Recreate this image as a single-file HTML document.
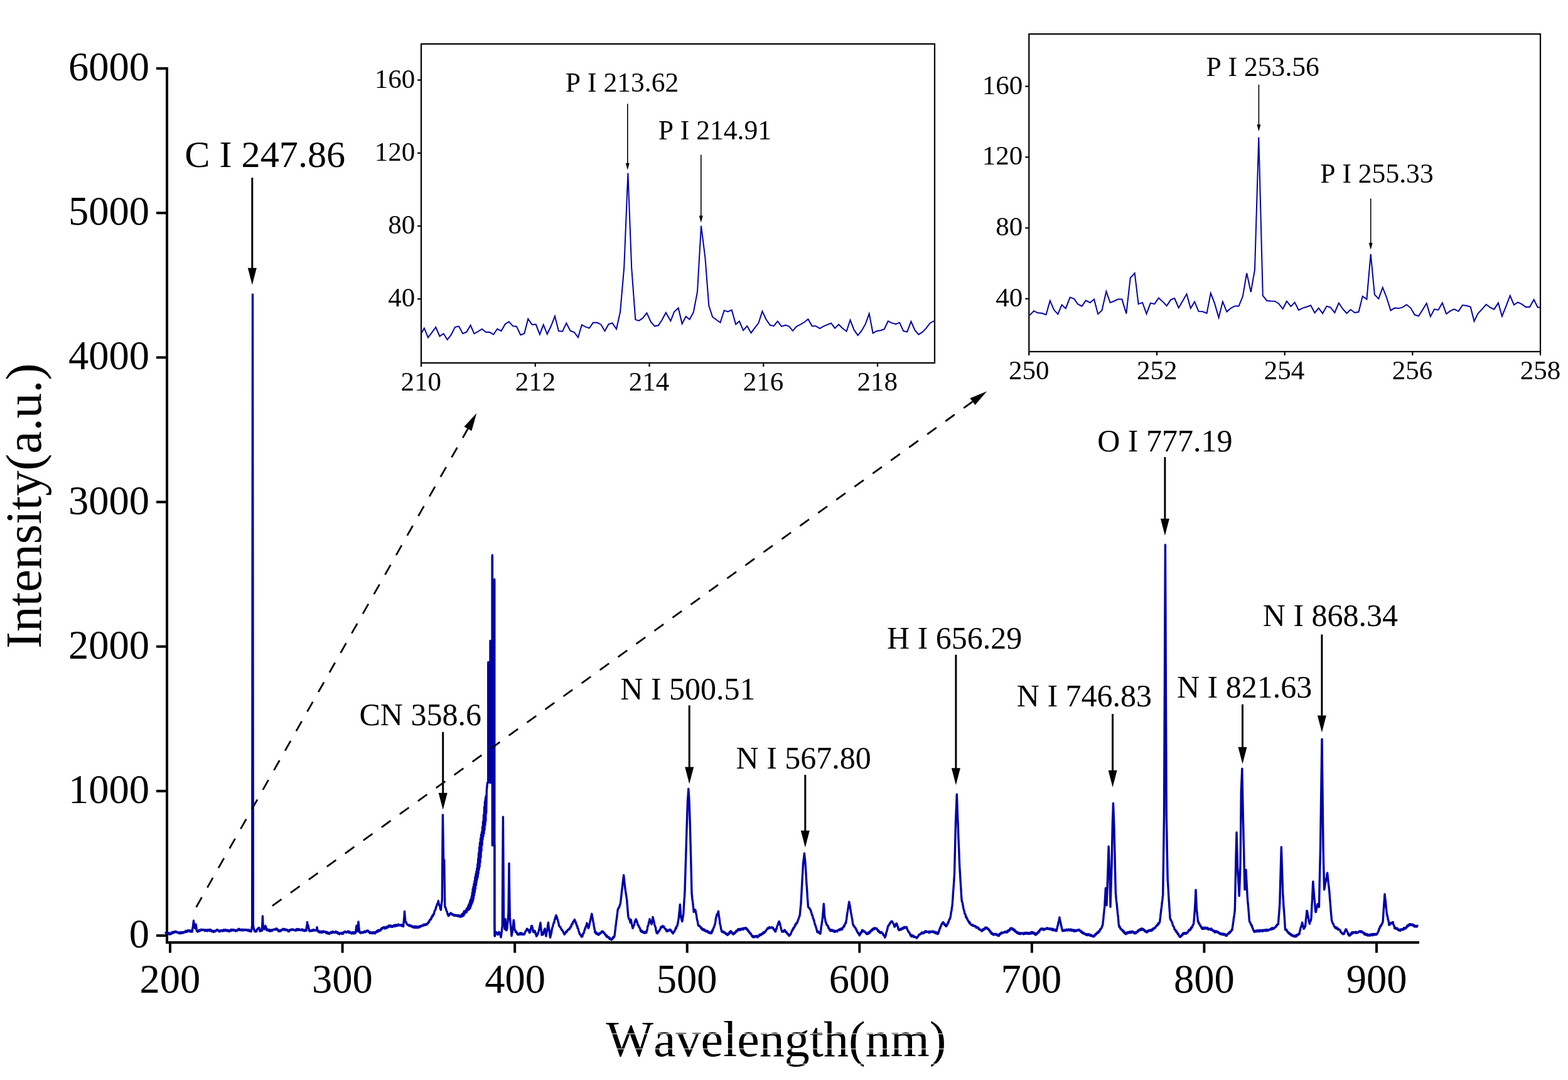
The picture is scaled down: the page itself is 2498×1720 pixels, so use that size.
<!DOCTYPE html>
<html><head><meta charset="utf-8"><title>Spectrum</title>
<style>html,body{margin:0;padding:0;background:#fff;overflow:hidden;}svg{display:block;}text{font-kerning:none;font-feature-settings:'kern' 0;}</style>
</head><body>
<svg width="2498" height="1720" viewBox="0 0 2498 1720">
<rect width="100%" height="100%" fill="#fff"/>
<g stroke="#000" stroke-width="4" fill="none">
<line x1="266" y1="107" x2="266" y2="1503"/>
<line x1="264" y1="1501" x2="2261" y2="1501"/>
<line x1="249" y1="1490" x2="266" y2="1490"/>
<line x1="249" y1="1259.83" x2="266" y2="1259.83"/>
<line x1="249" y1="1029.67" x2="266" y2="1029.67"/>
<line x1="249" y1="799.5" x2="266" y2="799.5"/>
<line x1="249" y1="569.33" x2="266" y2="569.33"/>
<line x1="249" y1="339.16" x2="266" y2="339.16"/>
<line x1="249" y1="109" x2="266" y2="109"/>
<line x1="271" y1="1501" x2="271" y2="1517.5"/>
<line x1="545.57" y1="1501" x2="545.57" y2="1517.5"/>
<line x1="820.14" y1="1501" x2="820.14" y2="1517.5"/>
<line x1="1094.71" y1="1501" x2="1094.71" y2="1517.5"/>
<line x1="1369.29" y1="1501" x2="1369.29" y2="1517.5"/>
<line x1="1643.86" y1="1501" x2="1643.86" y2="1517.5"/>
<line x1="1918.43" y1="1501" x2="1918.43" y2="1517.5"/>
<line x1="2193" y1="1501" x2="2193" y2="1517.5"/>
</g>
<g font-family="Liberation Serif, Times New Roman, serif" fill="#000">
<text x="205.71" y="1509" font-size="64.5">0</text>
<text x="108.96" y="1278.83" font-size="64.5">1000</text>
<text x="108.96" y="1048.67" font-size="64.5">2000</text>
<text x="108.96" y="818.5" font-size="64.5">3000</text>
<text x="108.96" y="588.33" font-size="64.5">4000</text>
<text x="108.96" y="358.16" font-size="64.5">5000</text>
<text x="108.96" y="128" font-size="64.5">6000</text>
<text x="222.44" y="1580.5" font-size="64.5">200</text>
<text x="496.88" y="1580.5" font-size="64.5">300</text>
<text x="772.37" y="1580.5" font-size="64.5">400</text>
<text x="1045.69" y="1580.5" font-size="64.5">500</text>
<text x="1320.75" y="1580.5" font-size="64.5">600</text>
<text x="1594.58" y="1580.5" font-size="64.5">700</text>
<text x="1870.05" y="1580.5" font-size="64.5">800</text>
<text x="2144.81" y="1580.5" font-size="64.5">900</text>
<text x="965.42" y="1682" font-size="80.02">Wavelength(nm)</text>
<rect x="955" y="1646" width="560" height="1" fill="#fff" shape-rendering="crispEdges"/>
<rect x="955" y="1670" width="560" height="1" fill="#fff" shape-rendering="crispEdges"/>
<rect x="955" y="1694" width="560" height="1" fill="#fff" shape-rendering="crispEdges"/>
<text transform="translate(64.5 1032.93) rotate(-90)" x="0" y="0" font-size="81">Intensity(a.u.)</text>
</g>
<path d="M264 1485.8 L264.5 1485.2 L264.9 1486.3 L265.4 1485 L265.8 1486.2 L266.3 1485.9 L266.7 1485.3 L267.2 1486.5 L267.7 1485.5 L268.1 1486.6 L268.6 1485.9 L269 1486.1 L269.5 1487 L269.9 1488.1 L270.4 1486.3 L270.9 1486.3 L271.3 1487.1 L271.8 1487.7 L272.2 1486.6 L272.7 1486 L273.1 1487.2 L273.6 1484.8 L274.1 1486.6 L274.5 1485 L275 1484.5 L275.4 1484.3 L275.9 1484.7 L276.3 1485.8 L276.8 1484.1 L277.3 1485 L277.7 1485 L278.2 1484.3 L278.6 1484.6 L279.1 1483.3 L279.5 1483.2 L280 1483.4 L280.5 1484.7 L280.9 1484.2 L281.4 1484.1 L281.8 1484.9 L282.3 1484.7 L282.7 1484.4 L283.2 1485.7 L283.6 1485.6 L284.1 1484.7 L284.5 1485.6 L285 1485.6 L285.5 1486.4 L285.9 1486.1 L286.4 1485.1 L286.8 1486.7 L287.3 1484.7 L287.7 1485.4 L288.2 1486.2 L288.6 1484.8 L289.1 1485.6 L289.5 1484.5 L290 1486 L290.5 1486.1 L290.9 1485.5 L291.4 1486 L291.8 1484.5 L292.3 1485.2 L292.7 1484.8 L293.2 1484.6 L293.6 1484.1 L294.1 1484.8 L294.5 1484.9 L295 1483.6 L295.5 1483.9 L295.9 1482.4 L296.4 1483.9 L296.8 1483.6 L297.3 1484.4 L297.7 1483.9 L298.2 1482.5 L298.6 1482.7 L299.1 1483.3 L299.5 1481.6 L300 1482.6 L300.5 1481.9 L300.9 1481.8 L301.4 1481.7 L301.8 1483.5 L302.3 1482 L302.8 1482.3 L303.2 1482.7 L303.7 1483.8 L304.2 1482 L304.6 1482.9 L305.1 1483.2 L305.5 1484.1 L306 1484.1 L306.5 1481.6 L307 1477.6 L307.5 1475.3 L308 1470.1 L308.5 1466.3 L309 1472.4 L309.5 1476.4 L310 1477.4 L310.5 1478.1 L311 1478.7 L311.5 1475.6 L312 1472 L312.5 1475 L313 1478.1 L313.5 1482.8 L314 1482.7 L314.4 1483.1 L314.9 1484 L315.3 1483.3 L315.8 1482.7 L316.2 1482.8 L316.7 1482.7 L317.2 1481.1 L317.6 1483 L318.1 1482.5 L318.5 1482.6 L319 1482.2 L319.5 1481.1 L319.9 1481 L320.4 1480.3 L320.8 1481.6 L321.3 1480.3 L321.8 1480.4 L322.2 1480.8 L322.7 1480.7 L323.1 1481.2 L323.6 1480.6 L324 1480.5 L324.5 1481 L325 1480.9 L325.4 1481.5 L325.9 1480.7 L326.3 1482.7 L326.8 1482.1 L327.2 1481 L327.7 1481.2 L328.2 1481.4 L328.6 1481.4 L329.1 1480.8 L329.5 1482.6 L330 1482.9 L330.5 1481.6 L330.9 1481.6 L331.4 1480.6 L331.8 1480.7 L332.3 1481.2 L332.7 1481 L333.2 1482.3 L333.6 1480.7 L334.1 1480.3 L334.5 1482.5 L335 1481.5 L335.5 1480.8 L335.9 1481.9 L336.4 1480.9 L336.8 1482.3 L337.3 1483.6 L337.7 1483.5 L338.2 1483.3 L338.6 1482.4 L339.1 1482.9 L339.5 1482.6 L340 1484.3 L340.5 1483.5 L340.9 1483.9 L341.4 1482.6 L341.8 1482.2 L342.3 1483.4 L342.7 1483.6 L343.2 1483.1 L343.6 1482.8 L344.1 1482.6 L344.5 1482.2 L345 1480.8 L345.5 1481.6 L345.9 1481.3 L346.4 1480.6 L346.8 1480.7 L347.3 1481.4 L347.7 1481.5 L348.2 1482.6 L348.6 1483.3 L349.1 1482.2 L349.5 1483.5 L350 1483.7 L350.5 1483.6 L350.9 1482.1 L351.4 1481.7 L351.8 1481.7 L352.3 1481.6 L352.7 1481.5 L353.2 1482.5 L353.6 1483.1 L354.1 1482.9 L354.5 1482 L355 1482.4 L355.5 1482.6 L355.9 1480.8 L356.4 1482.1 L356.8 1482.6 L357.3 1482.2 L357.7 1482.1 L358.2 1481.3 L358.6 1480.5 L359.1 1481.9 L359.5 1480.7 L360 1481.7 L360.5 1482.3 L360.9 1481.1 L361.4 1481.2 L361.8 1482.7 L362.3 1482.3 L362.7 1481.1 L363.2 1481.2 L363.6 1481.4 L364.1 1483.3 L364.5 1483.2 L365 1481.8 L365.5 1483.3 L365.9 1483.4 L366.4 1482.5 L366.8 1481.6 L367.3 1481.9 L367.7 1480.7 L368.2 1480.2 L368.6 1482.3 L369.1 1481.4 L369.5 1480.9 L370 1481.7 L370.5 1480.6 L370.9 1481.8 L371.4 1481.9 L371.8 1480.5 L372.3 1480.8 L372.7 1481 L373.2 1481 L373.6 1482 L374.1 1481.3 L374.5 1481.9 L375 1481.3 L375.5 1483 L375.9 1481.5 L376.4 1481.6 L376.8 1481.8 L377.3 1482.4 L377.7 1481.1 L378.2 1482.1 L378.6 1480.9 L379.1 1480.8 L379.5 1480.7 L380 1479.3 L380.5 1480.4 L380.9 1479.8 L381.4 1479.5 L381.8 1481.5 L382.3 1480.1 L382.7 1480.9 L383.2 1481.5 L383.6 1481.2 L384.1 1480.8 L384.5 1481.3 L385 1481.5 L385.5 1481.9 L385.9 1480.2 L386.4 1481.3 L386.8 1480.5 L387.3 1480.5 L387.7 1481.6 L388.2 1480.9 L388.6 1480.9 L389.1 1481.3 L389.5 1481.6 L390 1480.4 L390.5 1480.9 L390.9 1480.7 L391.4 1480.7 L391.9 1481.2 L392.4 1480.6 L392.8 1480.9 L393.3 1480.8 L393.8 1481.9 L394.2 1481.4 L394.7 1481.8 L395.2 1482.1 L395.6 1480.7 L396.1 1481.6 L396.6 1482.8 L397.1 1482.8 L397.5 1481.3 L398 1481.5 L398.5 1482.8 L399 1482.4 L399.5 1483.4 L400 1483.5 L400.6 1481.2 L401.1 1477.7 L401.7 1474.3 L402.5 469 L403.3 1472.3 L403.9 1476.6 L404.4 1479.4 L405 1481.1 L405.5 1483.1 L406 1483.4 L406.5 1481.8 L407 1483.8 L407.5 1482.6 L408 1483 L408.5 1483.5 L409 1482.3 L409.5 1480 L410 1479.9 L410.5 1479.7 L411 1478.9 L411.5 1478.2 L412.1 1477.5 L412.7 1477.5 L413.4 1478.8 L414 1483 L414.5 1482.7 L414.9 1481.8 L415.4 1482.2 L415.9 1482.6 L416.4 1482 L416.8 1480.5 L417.3 1482.4 L417.9 1470.7 L418.4 1459 L418.9 1470.7 L419.5 1479.3 L420 1479.3 L420.5 1478.5 L421 1480.1 L421.5 1478.7 L422 1476.4 L422.5 1475.2 L423 1474.4 L423.5 1476.6 L424 1477.6 L424.5 1479.8 L425 1481.7 L425.4 1481 L425.9 1481.4 L426.3 1480.1 L426.8 1480.1 L427.2 1481.8 L427.7 1481.3 L428.1 1480.6 L428.6 1482.8 L429.1 1482.2 L429.5 1482.7 L430 1481.1 L430.4 1482.9 L430.9 1481 L431.3 1482.8 L431.8 1481.8 L432.2 1481.4 L432.7 1481.9 L433.2 1482.7 L433.6 1481.1 L434.1 1480.7 L434.5 1481.6 L435 1480.8 L435.4 1480.4 L435.9 1480.3 L436.4 1479.9 L436.8 1480.1 L437.3 1480.2 L437.7 1480 L438.2 1481 L438.6 1479.7 L439.1 1480 L439.5 1479.1 L440 1479.4 L440.5 1478.8 L440.9 1479.7 L441.4 1479.4 L441.8 1481.4 L442.3 1481.2 L442.7 1480.6 L443.2 1481.6 L443.6 1482.9 L444.1 1481.2 L444.5 1483.2 L445 1482.5 L445.5 1482.5 L445.9 1483.1 L446.4 1481.8 L446.8 1481.8 L447.3 1482.1 L447.7 1482.6 L448.2 1480.8 L448.6 1481.8 L449.1 1481.3 L449.5 1480.9 L450 1480.1 L450.5 1480 L450.9 1479.3 L451.4 1479.5 L451.8 1479.4 L452.3 1481 L452.7 1479.9 L453.2 1479.7 L453.6 1479.5 L454.1 1481.4 L454.5 1481.5 L455 1481 L455.5 1480.2 L455.9 1480.3 L456.4 1480.6 L456.8 1481.1 L457.3 1480.6 L457.7 1481.4 L458.2 1481.2 L458.6 1483 L459.1 1483.2 L459.5 1482.3 L460 1481.8 L460.5 1483.4 L460.9 1481.7 L461.4 1481.7 L461.8 1480.7 L462.3 1481.5 L462.7 1481.6 L463.2 1481.5 L463.6 1480.7 L464.1 1481.3 L464.5 1480 L465 1480.5 L465.4 1480.1 L465.9 1480.8 L466.3 1479.9 L466.8 1479.9 L467.2 1480.6 L467.7 1480.4 L468.1 1481.2 L468.6 1481.1 L469 1481.6 L469.5 1481.4 L469.9 1481.5 L470.4 1481.9 L470.8 1480.7 L471.3 1480.4 L471.7 1482 L472.2 1479.9 L472.6 1481.2 L473.1 1481 L473.5 1479.5 L474 1481.3 L474.5 1481.4 L474.9 1480.7 L475.4 1481 L475.8 1481.2 L476.3 1479.6 L476.7 1480.5 L477.2 1480.5 L477.6 1481.3 L478.1 1481.2 L478.5 1481.3 L479 1480.7 L479.4 1481.5 L479.9 1481 L480.3 1481.1 L480.8 1480.2 L481.2 1479.8 L481.7 1480.2 L482.1 1480.9 L482.6 1480.5 L483 1482.4 L483.5 1481.8 L483.9 1482.2 L484.4 1482.3 L484.8 1482.6 L485.3 1482.1 L485.7 1480.9 L486.2 1482.7 L486.6 1482.5 L487.1 1481.8 L487.5 1481.8 L488 1482 L488.5 1476.4 L489 1473.8 L489.5 1468.4 L490.3 1476.2 L491 1473.8 L491.5 1477.4 L492 1478.6 L492.5 1482.3 L493 1483 L493.4 1481.9 L493.9 1481.8 L494.3 1482.1 L494.8 1482.7 L495.3 1482.9 L495.7 1482.5 L496.2 1482.5 L496.6 1481.1 L497.1 1481.2 L497.6 1481.4 L498 1482.5 L498.5 1481.3 L498.9 1481.9 L499.4 1480.5 L499.9 1480.6 L500.3 1481.1 L500.8 1482 L501.2 1482.1 L501.7 1482.1 L502.2 1481.2 L502.6 1481.8 L503.1 1481.7 L503.5 1481.7 L504 1480.9 L504.5 1480.5 L505 1476.6 L505.5 1480.9 L506 1483.2 L506.5 1481.3 L506.9 1482.6 L507.4 1483.7 L507.8 1484.3 L508.3 1483.3 L508.7 1483.1 L509.2 1483.2 L509.6 1485.2 L510.1 1483.6 L510.5 1484.5 L511 1483.4 L511.4 1484.3 L511.9 1485.2 L512.3 1483.2 L512.8 1484.8 L513.2 1484.1 L513.7 1484.9 L514.1 1484.4 L514.6 1483.3 L515 1484.8 L515.5 1484 L515.9 1483 L516.4 1483.1 L516.8 1484.4 L517.3 1484.4 L517.7 1484.1 L518.2 1483.9 L518.6 1484.5 L519.1 1484.6 L519.5 1485.9 L520 1484 L520.5 1485.9 L520.9 1486.2 L521.4 1484.6 L521.8 1486.6 L522.3 1486.2 L522.7 1486.8 L523.2 1485.4 L523.6 1485.7 L524.1 1485.8 L524.5 1487.4 L525 1486.5 L525.5 1485.8 L525.9 1485.8 L526.4 1485.2 L526.8 1484.5 L527.3 1484.4 L527.7 1486 L528.2 1484.5 L528.6 1485.8 L529.1 1484 L529.5 1483.9 L530 1484.3 L530.5 1483.5 L530.9 1483.9 L531.4 1485.3 L531.8 1485.2 L532.3 1485 L532.7 1484.6 L533.2 1485.2 L533.6 1485.3 L534.1 1484.4 L534.5 1484.8 L535 1483.2 L535.5 1485.1 L535.9 1484.6 L536.4 1485.6 L536.8 1485.5 L537.3 1484.9 L537.7 1484.6 L538.2 1486.9 L538.6 1485.2 L539.1 1486.3 L539.5 1486.2 L540 1486.3 L540.5 1487.3 L540.9 1487.9 L541.4 1486.1 L541.8 1487 L542.3 1486.1 L542.7 1486.7 L543.2 1486.3 L543.6 1485.7 L544.1 1485.7 L544.5 1485.7 L545 1487.4 L545.5 1486.2 L545.9 1485.4 L546.4 1486.8 L546.8 1486.9 L547.3 1485.4 L547.7 1484.5 L548.2 1484.4 L548.6 1484 L549.1 1484.4 L549.5 1483.6 L550 1483.8 L550.5 1483.8 L550.9 1484.6 L551.4 1485.3 L551.8 1484.9 L552.3 1484.1 L552.7 1484.1 L553.2 1484.3 L553.6 1483.9 L554.1 1483.8 L554.5 1483.1 L555 1483.6 L555.5 1485.4 L555.9 1483.5 L556.4 1484.6 L556.8 1485 L557.3 1485.7 L557.7 1484.3 L558.2 1484.6 L558.6 1484.7 L559.1 1485.2 L559.5 1485.5 L560 1486.9 L560.5 1486.6 L560.9 1486.6 L561.4 1484.6 L561.8 1484.6 L562.3 1486.2 L562.7 1486.7 L563.2 1485.6 L563.6 1485.9 L564.1 1484.5 L564.5 1485.4 L565 1486.7 L565.4 1486.2 L565.9 1486 L566.3 1486 L566.8 1483.9 L567.4 1478.8 L568 1474.2 L568.5 1477.5 L569 1480.3 L569.5 1483.3 L570.2 1477.7 L571 1467.9 L571.5 1473.7 L572 1478.6 L572.5 1484.4 L573 1483.4 L573.4 1485.4 L573.9 1484.3 L574.3 1486.1 L574.8 1485.7 L575.2 1485 L575.7 1484.5 L576.2 1484.8 L576.6 1485.7 L577.1 1485.8 L577.5 1484.4 L578 1484.3 L578.5 1485.2 L578.9 1485.2 L579.4 1484.6 L579.9 1484 L580.3 1484.7 L580.8 1483.1 L581.3 1483.6 L581.7 1483.8 L582.2 1484.7 L582.7 1483.8 L583.1 1484.1 L583.6 1482.9 L584.1 1482.1 L584.5 1481.9 L585 1483.4 L585.5 1483.1 L585.9 1482.5 L586.4 1482.1 L586.8 1483.6 L587.3 1484.3 L587.7 1484 L588.2 1483.9 L588.6 1485.2 L589.1 1486.1 L589.5 1484.8 L590 1484.6 L590.5 1485.3 L590.9 1485.5 L591.4 1486.1 L591.9 1484.9 L592.4 1486.3 L592.8 1486.1 L593.3 1485.5 L593.8 1484.7 L594.2 1486.5 L594.7 1484.9 L595.2 1486.1 L595.6 1484.8 L596.1 1484.8 L596.6 1486.1 L597.1 1485 L597.5 1486.7 L598 1485.6 L598.5 1484.4 L598.9 1484 L599.4 1483.9 L599.9 1484.1 L600.3 1484.5 L600.8 1482.3 L601.3 1482.8 L601.7 1482.1 L602.2 1483.8 L602.7 1481.6 L603.1 1481.2 L603.6 1481 L604.1 1481.6 L604.5 1482.6 L605 1482.4 L605.5 1481.7 L605.9 1482 L606.4 1481.5 L606.8 1479.7 L607.3 1479 L607.7 1480.4 L608.2 1479.6 L608.6 1477.6 L609.1 1478.8 L609.5 1477.7 L610 1477.4 L610.5 1477.3 L610.9 1476.9 L611.4 1476.5 L611.8 1477.1 L612.3 1477.3 L612.7 1478.8 L613.2 1476.8 L613.6 1478.8 L614.1 1477 L614.5 1477.3 L615 1478.4 L615.5 1478.2 L615.9 1477 L616.4 1475.8 L616.8 1476.6 L617.3 1476.1 L617.8 1477.1 L618.2 1475.1 L618.7 1475.3 L619.1 1476.3 L619.6 1474 L620 1474.6 L620.5 1475.7 L621 1475.6 L621.4 1473.9 L621.9 1473.9 L622.3 1474 L622.8 1476.1 L623.2 1474.6 L623.7 1475.8 L624.2 1476.2 L624.6 1474.9 L625.1 1474.7 L625.5 1476.2 L626 1475.2 L626.5 1474.2 L626.9 1475.2 L627.4 1474.2 L627.8 1474 L628.2 1473.2 L628.7 1475 L629.1 1475.3 L629.6 1474.5 L630 1475.1 L630.5 1472.8 L631 1473.2 L631.4 1473.7 L631.9 1474.7 L632.3 1474.6 L632.8 1473.1 L633.2 1472.7 L633.6 1473 L634.1 1473 L634.5 1474 L635 1472.1 L635.5 1473.7 L636 1473.6 L636.4 1473.9 L636.9 1473.9 L637.4 1473.5 L637.9 1473 L638.3 1473 L638.8 1473.2 L639.3 1474.3 L639.8 1472.7 L640.2 1473.2 L640.7 1474.8 L641.2 1473.9 L641.6 1473.7 L642.1 1474 L642.6 1475.5 L643.5 1464.8 L644 1459.7 L644.5 1451.4 L645 1458.3 L645.5 1463.7 L646 1468.4 L646.5 1468.3 L647 1468.6 L647.5 1469.9 L648 1471.4 L648.5 1471.9 L649 1472.4 L649.5 1472.8 L649.9 1473.2 L650.4 1473.5 L650.9 1473.9 L651.3 1474.3 L651.8 1474 L652.3 1472.9 L652.8 1474.8 L653.2 1473.7 L653.7 1474.5 L654.2 1474.3 L654.6 1475.3 L655.1 1474.2 L655.6 1474.6 L656 1474.8 L656.5 1474.8 L657 1476.6 L657.4 1476 L657.9 1475.4 L658.3 1475.6 L658.8 1477.1 L659.2 1476 L659.7 1475.4 L660.1 1476.8 L660.6 1476.5 L661.1 1477.4 L661.5 1475.3 L662 1476.2 L662.4 1477.1 L662.9 1477.2 L663.3 1477.4 L663.8 1475.4 L664.2 1476 L664.7 1475.6 L665.1 1475.8 L665.6 1477.6 L666.1 1476.5 L666.5 1477.3 L667 1475.8 L667.4 1476.9 L667.9 1475.8 L668.3 1475.2 L668.8 1476.4 L669.2 1476.6 L669.7 1474.5 L670.2 1475.6 L670.6 1475.5 L671.1 1474.4 L671.5 1474.6 L672 1473.9 L672.4 1474 L672.9 1473.9 L673.3 1474.6 L673.8 1474.6 L674.3 1473.2 L674.8 1472.3 L675.2 1472.8 L675.7 1473.6 L676.2 1472.3 L676.6 1472.5 L677.1 1472.2 L677.6 1473.5 L678.1 1472.8 L678.5 1471.6 L679 1471.6 L679.5 1472.2 L680 1472.5 L680.4 1472.2 L680.9 1470.4 L681.4 1470.1 L681.9 1470.6 L682.3 1469.2 L682.8 1468.1 L683.3 1467.4 L683.8 1468.2 L684.2 1465.9 L684.7 1465.7 L685.2 1464.5 L685.7 1464.1 L686.1 1464.5 L686.6 1464.3 L687.1 1461.9 L687.5 1460.7 L688 1461.2 L688.4 1459.1 L688.9 1457.9 L689.3 1459.2 L689.8 1457.3 L690.2 1457.5 L690.6 1455.8 L691.1 1456.2 L691.6 1453.8 L692.1 1451.7 L692.6 1449.9 L693.1 1449.8 L693.6 1448.6 L694.1 1447.8 L694.6 1444.6 L695 1444.6 L695.5 1442.7 L696 1441.7 L696.4 1439.6 L696.9 1439.1 L697.4 1438.3 L697.8 1438 L698.3 1434.7 L698.8 1437.3 L699.2 1439.7 L699.7 1441.6 L700.2 1441.5 L700.8 1443 L701.3 1446.7 L701.9 1448.5 L702.4 1449.1 L702.9 1443.6 L703.3 1441.3 L703.8 1436.7 L704.3 1433.6 L704.8 1365.2 L705.4 1297.6 L706 1334.1 L706.6 1369.7 L707.2 1370.3 L707.7 1369.7 L708.2 1406.9 L708.8 1443.6 L709.3 1445.1 L709.8 1445.1 L710.2 1446.8 L710.7 1448.8 L711.2 1450.3 L711.6 1451.1 L712.1 1451.7 L712.5 1453.2 L713 1455.5 L713.5 1457.1 L713.9 1456.2 L714.4 1458.7 L714.9 1458.6 L715.4 1456.4 L715.8 1457.8 L716.3 1455.5 L716.8 1456.2 L717.2 1455.5 L717.7 1455.2 L718.2 1453.9 L718.7 1454.6 L719.1 1455.5 L719.6 1455.5 L720 1456.5 L720.5 1456.3 L720.9 1456.5 L721.4 1455.8 L721.8 1457.4 L722.2 1457.4 L722.7 1457 L723.2 1458.4 L723.7 1458.4 L724.1 1457.7 L724.6 1457.1 L725.1 1457.9 L725.5 1457.3 L726 1457.6 L726.5 1458.6 L727 1457.7 L727.4 1458.6 L727.9 1458.7 L728.4 1457.5 L728.8 1458.9 L729.3 1457.6 L729.8 1459.1 L730.2 1459.3 L730.7 1458.7 L731.2 1457.7 L731.7 1458.8 L732.1 1458.6 L732.6 1460 L733.1 1458.1 L733.5 1459.9 L734 1460.3 L734.5 1459.3 L734.9 1459.1 L735.4 1457.1 L735.9 1458.5 L736.4 1455.5 L736.8 1459.3 L737.3 1455.2 L737.8 1457.6 L738.3 1453.9 L738.7 1458.2 L739.2 1451.3 L739.7 1456 L740.1 1451.7 L740.6 1454.5 L741.1 1450.9 L741.5 1453.7 L742 1449.7 L742.5 1452.3 L743 1448 L743.4 1452.8 L743.9 1446.4 L744.4 1450.4 L744.8 1445.9 L745.3 1449.5 L745.8 1443.2 L746.2 1448.2 L746.7 1440.8 L747.2 1448.6 L747.7 1439.3 L748.1 1447.5 L748.6 1435.6 L749.1 1446.2 L749.6 1432.9 L750 1443.5 L750.5 1431.4 L751 1440.6 L751.4 1427 L751.9 1438.5 L752.3 1421.6 L752.8 1436.7 L753.2 1415.8 L753.6 1434.4 L754.1 1412.1 L754.5 1430.6 L755 1407.6 L755.5 1425.4 L756 1403.1 L756.4 1420.8 L756.9 1396.9 L757.4 1416 L757.9 1392.2 L758.4 1409.7 L758.9 1387.9 L759.3 1404.4 L759.8 1383.1 L760.3 1399.9 L760.8 1376 L761.2 1396.6 L761.7 1367.5 L762.2 1391.1 L762.6 1358.4 L763.1 1385 L763.6 1349.4 L764.1 1380.5 L764.5 1342.1 L765 1373.5 L765.5 1335 L766 1365.5 L766.5 1329.1 L767 1355.1 L767.5 1324.9 L768 1345.7 L768.5 1316.8 L769 1337.3 L769.5 1308.5 L770 1332.1 L770.5 1297.7 L771 1327.4 L771.5 1284.9 L772 1321.4 L772.5 1276.2 L772.9 1314.3 L773.4 1271.3 L773.8 1307.6 L774.2 1267.5 L774.7 1294.8 L775.3 1258.9 L775.9 1252.8 L776.5 1246.4 L777 1246.3 L777.4 1245.9 L777.9 1245.8 L778.3 1245.5 L778.8 1246.1 L779.3 1246.1 L779.7 1245.9 L780.2 1246.1 L780.6 1245.9 L781.1 1246.4 L781.5 1246.2 L782 1245.7 L782.5 1246.4 L782.9 1245.5 L783.4 1246 L783.8 1245.9 L784.3 1245.7 L784.3 1345.6 L784.8 1346.3 L785.3 1345.5 L785.8 1346.1 L786.3 1346.4 L786.8 1345.6 L787.3 1345.7 L787.8 1346.1 L787.8 1469.8 L788.2 1490.9 L788.7 1490.2 L789.1 1487.5 L789.6 1486.8 L790.1 1485.7 L790.5 1484.4 L791 1485.8 L791.5 1486.2 L792 1486.8 L792.5 1485.8 L793 1488.5 L793.5 1487.4 L794 1486 L794.5 1485.8 L795 1484.3 L795.5 1485.1 L796 1486.1 L796.5 1487.6 L797 1488.5 L797.5 1490.5 L798 1492.7 L798.5 1489.2 L798.9 1486.1 L799.4 1482.3 L799.8 1477.8 L800.3 1475.1 L800.8 1387.9 L801.4 1301 L802 1380.8 L802.5 1460.4 L803 1465.9 L803.5 1472.8 L804 1479.7 L804.5 1470 L805 1463.6 L805.5 1468.1 L806 1475.2 L806.5 1481.7 L807 1481.5 L807.5 1480.5 L808 1478.5 L808.5 1471.7 L809 1467.1 L809.5 1459.9 L810 1453.8 L810.5 1415.4 L811 1375 L811.6 1417.6 L812.3 1460.9 L812.8 1465.7 L813.2 1471.3 L813.6 1474.9 L814.1 1480.7 L814.5 1485.2 L815 1490.5 L815.5 1487.2 L816 1485.5 L816.5 1482.9 L817 1480 L817.6 1472 L818.3 1465.3 L818.9 1469.6 L819.4 1477.1 L820 1480.8 L820.5 1481.1 L820.9 1481.9 L821.4 1484.4 L821.8 1483.6 L822.3 1483.7 L822.7 1484.1 L823.2 1484.7 L823.6 1486.8 L824.1 1487.3 L824.5 1488 L825 1488.7 L825.5 1487 L825.9 1488.1 L826.4 1487.4 L826.8 1488.4 L827.3 1488.3 L827.7 1488.3 L828.2 1486.2 L828.6 1488 L829.1 1488 L829.5 1488 L830 1485.8 L830.5 1486.2 L830.9 1486.1 L831.4 1486.1 L831.8 1488.1 L832.3 1488.2 L832.7 1487.9 L833.2 1488.5 L833.6 1488.2 L834.1 1487.5 L834.5 1487.2 L835 1487.3 L835.5 1488 L835.9 1485.8 L836.4 1485.2 L836.8 1484.6 L837.3 1482.8 L837.7 1482.5 L838.2 1481.7 L838.6 1481.9 L839.1 1480.2 L839.5 1479.2 L840 1479.9 L840.5 1479.6 L841 1481.3 L841.5 1481.6 L842 1481.1 L842.5 1482.9 L843 1483.8 L843.5 1485.5 L844 1485.3 L844.5 1484.2 L845 1481.7 L845.5 1479 L846 1478.6 L846.5 1474.8 L847 1474.5 L847.5 1474.8 L848 1476.3 L848.5 1478.6 L849 1481.8 L849.5 1484.2 L850 1483.7 L850.5 1484.5 L851 1484 L851.5 1484.3 L852 1482.3 L852.5 1484.5 L853 1485.5 L853.5 1488 L854 1488 L854.5 1491 L855 1490.8 L855.5 1489.5 L856 1489.4 L856.5 1487.8 L857 1485.7 L857.5 1485.8 L858 1483.2 L858.5 1482.4 L859 1479.7 L859.5 1477.4 L860 1474.5 L860.5 1471.6 L861 1469.5 L861.5 1474.1 L862 1479.9 L862.5 1482.6 L863 1489.1 L863.5 1486.9 L864 1487.2 L864.5 1487.2 L865 1488.6 L865.5 1486.2 L866 1484.4 L866.5 1484.2 L867 1481.2 L867.5 1480.3 L868 1479.1 L868.5 1482.7 L869 1485.8 L869.5 1488.6 L870 1490.9 L870.5 1487.7 L871 1484.2 L871.5 1482.6 L872 1479.1 L872.5 1476.1 L873 1471.6 L873.5 1469.1 L874 1474 L874.5 1477.7 L875 1480.8 L875.6 1485.6 L876.1 1490.6 L876.6 1493.1 L877.1 1490.7 L877.6 1488.7 L878.1 1487.4 L878.5 1485.4 L879 1481.5 L879.5 1479.2 L880 1477.1 L880.5 1475.7 L880.9 1474.6 L881.4 1472.2 L881.8 1471 L882.3 1469.1 L882.8 1469.4 L883.2 1467.2 L883.7 1464.1 L884.2 1464.6 L884.6 1461 L885.1 1460 L885.5 1459.8 L886 1457.7 L886.5 1459.2 L886.9 1460.1 L887.4 1461.1 L887.8 1463.8 L888.3 1464.1 L888.7 1466 L889.2 1468.1 L889.6 1468.8 L890.1 1471.3 L890.5 1473.8 L891 1475 L891.5 1475.2 L891.9 1476.2 L892.4 1476.5 L892.8 1476.4 L893.3 1478.1 L893.8 1478.3 L894.2 1479.8 L894.7 1480.8 L895.1 1480.4 L895.6 1481.5 L896.1 1482.7 L896.5 1482.6 L897 1482.9 L897.5 1484.9 L897.9 1486 L898.4 1486.5 L898.8 1487.1 L899.3 1488.2 L899.8 1487.4 L900.2 1486.8 L900.7 1485.8 L901.1 1484.9 L901.6 1485.2 L902.1 1483.3 L902.5 1483.6 L903 1483.9 L903.5 1483.2 L903.9 1482.5 L904.4 1481 L904.8 1480.9 L905.3 1480.6 L905.8 1480.6 L906.2 1479.6 L906.7 1479.9 L907.1 1480.1 L907.6 1477.9 L908.1 1478.2 L908.5 1477.7 L909 1476 L909.4 1475.4 L909.9 1475.8 L910.4 1472.7 L910.8 1473 L911.3 1471.3 L911.7 1471.9 L912.2 1471.4 L912.6 1469.5 L913.1 1467.7 L913.6 1468 L914 1467 L914.5 1466.6 L914.9 1465.2 L915.4 1464.5 L915.9 1466.3 L916.4 1466.8 L916.8 1467.8 L917.3 1470.4 L917.8 1469.9 L918.2 1472.3 L918.7 1472.9 L919.2 1475.1 L919.7 1474.8 L920.1 1478.2 L920.6 1478.3 L921.1 1479.2 L921.6 1481.4 L922 1483.3 L922.5 1484 L923 1486.5 L923.5 1487.2 L924 1488.4 L924.4 1488.2 L924.9 1488.6 L925.4 1489.1 L925.9 1490.9 L926.3 1491.9 L926.8 1491.5 L927.3 1491.3 L927.8 1491.5 L928.2 1489.4 L928.7 1487.8 L929.1 1486.4 L929.6 1486.8 L930 1485.7 L930.5 1484 L930.9 1482.3 L931.4 1481.2 L931.8 1479.1 L932.3 1479.5 L932.7 1476.8 L933.2 1476.2 L933.6 1475.3 L934.1 1474 L934.5 1471.8 L935 1470.1 L935.5 1472.1 L935.9 1472.4 L936.4 1475.4 L936.8 1475.6 L937.2 1478.2 L937.7 1478.1 L938.2 1476.3 L938.6 1473.9 L939.1 1472.3 L939.6 1469.6 L940 1467.1 L940.5 1466.7 L940.9 1463.5 L941.4 1461.3 L941.9 1459.3 L942.3 1457.6 L942.8 1455.3 L943.3 1458.3 L943.7 1460.9 L944.2 1462.7 L944.7 1466.5 L945.2 1468.9 L945.6 1469.7 L946.1 1474.3 L946.6 1477.2 L947.1 1479.6 L947.5 1480.7 L948 1485.1 L948.5 1485.1 L948.9 1484.1 L949.4 1484.5 L949.9 1487.3 L950.4 1486.9 L950.8 1486.3 L951.3 1486.2 L951.8 1486.6 L952.3 1487.2 L952.7 1488.8 L953.2 1488.1 L953.7 1487.2 L954.1 1488.7 L954.6 1488 L955 1486.1 L955.5 1487.5 L955.9 1486.4 L956.4 1486.5 L956.8 1485.8 L957.3 1486 L957.7 1485.4 L958.2 1485.1 L958.6 1483.2 L959.1 1484 L959.5 1483.3 L960 1483.4 L960.5 1483.3 L960.9 1485 L961.4 1484.9 L961.8 1484.8 L962.3 1485.4 L962.7 1485.8 L963.2 1487.3 L963.6 1486.9 L964.1 1488.5 L964.5 1488.4 L965 1489.9 L965.4 1490.2 L965.9 1490.6 L966.3 1491.7 L966.8 1490 L967.2 1492.3 L967.7 1491.7 L968.2 1492.1 L968.6 1492.6 L969.1 1493.2 L969.5 1492.3 L970 1492.6 L970.5 1494.5 L970.9 1493.1 L971.4 1495 L971.8 1495.6 L972.3 1494.8 L972.8 1496.1 L973.3 1496.2 L973.7 1496.7 L974.2 1495.1 L974.7 1496.6 L975.2 1495.2 L975.6 1494.6 L976.1 1495.1 L976.6 1492.5 L977.1 1493.6 L977.6 1492.8 L978 1491.6 L978.5 1492.4 L979 1490.6 L979.5 1486.7 L979.9 1482.7 L980.4 1479.5 L980.9 1474.4 L981.4 1471.2 L981.8 1467.4 L982.3 1463.9 L982.8 1460.8 L983.3 1455.8 L983.7 1453.3 L984.2 1448.5 L984.7 1447.9 L985.1 1446.4 L985.6 1445.9 L986.1 1445.9 L986.5 1444.1 L987 1443.4 L987.5 1441.2 L987.9 1440.1 L988.4 1438.9 L988.9 1434.8 L989.5 1429.8 L990 1425.1 L990.5 1419.5 L991 1415.9 L991.5 1411.7 L992 1406.9 L992.6 1402.1 L993.1 1398 L993.6 1393.8 L994.1 1398 L994.6 1402.8 L995.1 1408.2 L995.6 1412.6 L996.1 1416.1 L996.6 1419.6 L997.2 1423.2 L997.7 1426.3 L998.2 1429.7 L998.7 1433.3 L999.2 1440 L999.8 1446.8 L1000.3 1453.5 L1000.8 1458.8 L1001.3 1461.2 L1001.7 1462 L1002.2 1464 L1002.6 1463.7 L1003.1 1465.2 L1003.5 1466.1 L1004 1469.2 L1004.5 1467.2 L1005 1464.4 L1005.5 1466.2 L1006 1469.7 L1006.5 1472.1 L1007 1474.1 L1007.5 1475.8 L1008 1478.4 L1008.5 1477.3 L1008.9 1475.6 L1009.4 1474.5 L1009.9 1473.6 L1010.4 1472.9 L1010.8 1469.4 L1011.3 1469.3 L1011.8 1466.7 L1012.3 1465.5 L1012.7 1465.8 L1013.2 1463.9 L1013.7 1466.1 L1014.1 1466.3 L1014.6 1466.6 L1015 1468.8 L1015.5 1470.4 L1015.9 1472.3 L1016.4 1473.5 L1016.9 1473.3 L1017.3 1474.3 L1017.8 1474.6 L1018.2 1477 L1018.7 1477 L1019.1 1477.9 L1019.6 1478.7 L1020 1479.8 L1020.5 1482.6 L1021 1481.5 L1021.4 1483.8 L1021.9 1482 L1022.4 1484.2 L1022.9 1482.7 L1023.3 1482.7 L1023.8 1484.7 L1024.3 1483.8 L1024.8 1485.3 L1025.2 1484.4 L1025.7 1484.5 L1026.2 1486.1 L1026.6 1485.8 L1027.1 1486 L1027.5 1485.6 L1028 1483.9 L1028.4 1485 L1028.9 1485.1 L1029.3 1484.4 L1029.8 1485.4 L1030.3 1481.9 L1030.7 1481.8 L1031.2 1479.5 L1031.7 1476 L1032.2 1474.2 L1032.6 1473.9 L1033.1 1472.5 L1033.6 1468.9 L1034.1 1467.7 L1034.5 1466.9 L1035 1463.8 L1035.5 1466.7 L1036 1467.1 L1036.5 1467.3 L1037 1469.3 L1037.5 1471.1 L1038 1472 L1038.5 1469.7 L1039 1465.6 L1039.5 1464.3 L1040 1460.4 L1040.5 1462.9 L1040.9 1464.7 L1041.4 1465.9 L1041.8 1467.7 L1042.3 1470.4 L1042.7 1472.6 L1043.2 1474 L1043.7 1475.3 L1044.1 1476.4 L1044.6 1477.7 L1045 1481.7 L1045.5 1483 L1045.9 1485.4 L1046.4 1486.2 L1046.9 1486.3 L1047.4 1486.6 L1047.8 1485.7 L1048.3 1484.6 L1048.8 1483.3 L1049.3 1483 L1049.7 1483.6 L1050.2 1481.6 L1050.7 1481.5 L1051.2 1480.4 L1051.6 1480.3 L1052.1 1479.2 L1052.6 1477.1 L1053.1 1476.1 L1053.5 1476.4 L1054 1476.5 L1054.4 1476.6 L1054.9 1476.8 L1055.3 1476.7 L1055.8 1474.4 L1056.2 1476 L1056.7 1475.6 L1057.2 1476.4 L1057.7 1476.3 L1058.1 1476.1 L1058.6 1478.1 L1059.1 1478.6 L1059.6 1479 L1060.1 1480.1 L1060.6 1479.6 L1061 1479.8 L1061.5 1481.7 L1062 1483.1 L1062.5 1481.6 L1062.9 1482.9 L1063.4 1483.3 L1063.8 1481.5 L1064.3 1482.4 L1064.7 1482.5 L1065.2 1481.8 L1065.6 1480.9 L1066.1 1480.6 L1066.5 1481.5 L1067 1481.2 L1067.5 1480.9 L1068 1480.4 L1068.4 1482.5 L1068.9 1482.9 L1069.4 1482 L1069.9 1483.2 L1070.4 1484.6 L1070.9 1485.3 L1071.3 1485.1 L1071.8 1485.7 L1072.3 1486.7 L1072.8 1485 L1073.2 1484.3 L1073.6 1483.6 L1074.1 1484.1 L1074.5 1482.6 L1075 1482.3 L1075.5 1481 L1075.9 1480.4 L1076.3 1478.5 L1076.8 1477.3 L1077.2 1478.7 L1077.7 1476.2 L1078.2 1474.7 L1078.6 1475 L1079 1474.4 L1079.5 1472 L1080 1470 L1080.5 1466.5 L1081 1464.1 L1081.5 1460.1 L1082.1 1453.1 L1082.7 1448.3 L1083.3 1440.5 L1083.9 1448.2 L1084.4 1454.5 L1085 1461.9 L1085.6 1463.2 L1086.2 1466.3 L1086.8 1467.4 L1087.3 1465.5 L1087.8 1461.8 L1088.3 1458.7 L1088.8 1455.8 L1089.3 1445.7 L1089.9 1435.9 L1090.5 1428.2 L1091 1419.7 L1091.5 1402.9 L1092 1386.2 L1092.5 1370.1 L1093 1353.7 L1093.5 1336.6 L1094 1320.4 L1094.5 1305.4 L1095 1289.6 L1095.5 1275.1 L1096.2 1265.5 L1096.8 1256.3 L1097.4 1265.3 L1098 1275.5 L1098.5 1289.8 L1099 1305.1 L1099.5 1320.1 L1100 1340.5 L1100.5 1360.2 L1101 1380.8 L1101.5 1401.8 L1102 1422.5 L1102.5 1427.4 L1102.9 1432.3 L1103.4 1434.6 L1103.8 1438.3 L1104.3 1442.8 L1104.7 1447 L1105.2 1452.4 L1105.7 1451.9 L1106.2 1451.2 L1106.8 1448.7 L1107.3 1449.9 L1107.8 1449.2 L1108.3 1451.6 L1108.7 1454.9 L1109.2 1455.3 L1109.6 1458 L1110.1 1462 L1110.6 1464.9 L1111 1466.6 L1111.5 1468.2 L1111.9 1471.3 L1112.4 1474.1 L1112.9 1473 L1113.4 1474 L1113.8 1474.3 L1114.3 1474.4 L1114.8 1475.8 L1115.3 1475.5 L1115.7 1476.2 L1116.2 1476.4 L1116.7 1478.2 L1117.2 1477.1 L1117.6 1479.3 L1118.1 1478.6 L1118.6 1478.7 L1119 1480.9 L1119.5 1479.3 L1119.9 1481.1 L1120.4 1481.1 L1120.8 1481.4 L1121.3 1479.9 L1121.8 1480.8 L1122.2 1480.2 L1122.6 1482.5 L1123.1 1482.5 L1123.5 1482.2 L1124 1482 L1124.5 1482 L1124.9 1483.4 L1125.3 1482.8 L1125.8 1483.4 L1126.2 1482.4 L1126.7 1482.9 L1127.1 1482.7 L1127.6 1484.5 L1128 1484.3 L1128.5 1483.6 L1129 1485.6 L1129.4 1484.3 L1129.8 1484.9 L1130.3 1484.5 L1130.8 1484.9 L1131.2 1486.4 L1131.7 1485.3 L1132.1 1485 L1132.5 1485.9 L1133 1485.7 L1133.5 1486.2 L1133.9 1483.4 L1134.4 1484.5 L1134.8 1481.4 L1135.3 1482.5 L1135.7 1481 L1136.2 1479 L1136.6 1478.6 L1137.1 1477.2 L1137.5 1476.2 L1138 1475.1 L1138.5 1473.1 L1139 1472.1 L1139.5 1469.6 L1139.9 1467 L1140.4 1462.6 L1140.9 1460.7 L1141.4 1459.8 L1141.9 1456.8 L1142.4 1457.4 L1143 1455.3 L1143.5 1455.9 L1144 1452.5 L1144.5 1451.3 L1145 1457.2 L1145.5 1459.6 L1146 1462.7 L1146.5 1465.9 L1147 1471.4 L1147.5 1472.8 L1147.9 1474.1 L1148.3 1476.8 L1148.8 1480.1 L1149.2 1480.6 L1149.7 1483.6 L1150.2 1482.7 L1150.6 1483 L1151.1 1484.6 L1151.6 1484.7 L1152 1483.7 L1152.5 1483.6 L1153 1483.8 L1153.4 1485.3 L1153.9 1485.3 L1154.3 1484.9 L1154.8 1485 L1155.3 1486.3 L1155.7 1486.8 L1156.2 1487.4 L1156.7 1487.2 L1157.1 1486.6 L1157.6 1486.6 L1158.1 1488.6 L1158.5 1488.1 L1159 1489.2 L1159.5 1487.2 L1159.9 1488.7 L1160.4 1487 L1160.9 1487.7 L1161.4 1487.3 L1161.8 1485.9 L1162.3 1484.2 L1162.8 1485.9 L1163.3 1484.3 L1163.7 1484.8 L1164.2 1482.8 L1164.7 1483.1 L1165.1 1485.2 L1165.6 1484.6 L1166 1484.7 L1166.5 1485.7 L1166.9 1486.8 L1167.4 1485.9 L1167.8 1487.7 L1168.3 1488 L1168.8 1487.7 L1169.2 1486.2 L1169.7 1487.1 L1170.1 1486.8 L1170.6 1486.5 L1171 1484.7 L1171.5 1485.2 L1171.9 1483.9 L1172.4 1484.4 L1172.9 1482.3 L1173.3 1483.8 L1173.8 1483.5 L1174.2 1482 L1174.7 1481.5 L1175.1 1481.1 L1175.6 1480.7 L1176.1 1479.4 L1176.5 1481.7 L1177 1479.9 L1177.4 1479.8 L1177.9 1479.6 L1178.4 1479.9 L1178.8 1481.3 L1179.3 1479.4 L1179.7 1479.5 L1180.2 1480.9 L1180.7 1479.6 L1181.1 1479 L1181.6 1480.3 L1182 1480.1 L1182.5 1479.9 L1182.9 1480.2 L1183.4 1478.6 L1183.9 1480.4 L1184.3 1479.9 L1184.8 1478.2 L1185.2 1478.2 L1185.7 1479 L1186.2 1478.9 L1186.6 1478.2 L1187.1 1477.7 L1187.5 1478.2 L1188 1477.5 L1188.5 1478.9 L1188.9 1479.9 L1189.4 1478.5 L1189.9 1479.9 L1190.4 1480.8 L1190.8 1479.9 L1191.3 1482.1 L1191.8 1482.9 L1192.3 1482.1 L1192.7 1482.7 L1193.2 1484.3 L1193.7 1484.2 L1194.2 1484.6 L1194.6 1486.6 L1195.1 1486.9 L1195.6 1486.4 L1196.1 1486.8 L1196.5 1487.6 L1197 1488.4 L1197.5 1490.3 L1198 1490.5 L1198.4 1491.3 L1198.9 1491.7 L1199.4 1492.3 L1199.9 1490.6 L1200.4 1491.8 L1200.8 1492.8 L1201.3 1492.7 L1201.8 1491.1 L1202.3 1491.5 L1202.8 1492 L1203.2 1491.3 L1203.7 1491.7 L1204.2 1490.6 L1204.7 1491.4 L1205.2 1491.6 L1205.6 1490.4 L1206.1 1490.8 L1206.6 1492.8 L1207.1 1492 L1207.5 1492.1 L1208 1491 L1208.4 1491.2 L1208.9 1491 L1209.4 1490.7 L1209.8 1488.4 L1210.3 1489.6 L1210.8 1488.5 L1211.2 1489.2 L1211.7 1488 L1212.2 1488.5 L1212.6 1489.2 L1213.1 1488.2 L1213.5 1487.1 L1214 1487.6 L1214.5 1486.8 L1214.9 1487.6 L1215.4 1485.7 L1215.8 1485.4 L1216.3 1486 L1216.7 1484.5 L1217.2 1485.3 L1217.6 1485.9 L1218.1 1484.6 L1218.6 1483.7 L1219 1484 L1219.5 1483.9 L1219.9 1482.7 L1220.4 1481.9 L1220.8 1481.2 L1221.3 1480.8 L1221.7 1480.4 L1222.2 1479.3 L1222.7 1478.8 L1223.1 1478 L1223.6 1478.7 L1224 1479 L1224.5 1478 L1225 1477.5 L1225.4 1477.7 L1225.9 1476.6 L1226.3 1477.9 L1226.8 1477.3 L1227.3 1477.5 L1227.7 1477.7 L1228.2 1477.4 L1228.7 1477 L1229.1 1476.9 L1229.6 1476.9 L1230 1477.6 L1230.5 1477 L1231 1478.1 L1231.4 1477.2 L1231.9 1478.6 L1232.4 1480.3 L1232.8 1479.4 L1233.3 1480.6 L1233.7 1481 L1234.2 1481.1 L1234.7 1483.3 L1235.1 1482.1 L1235.6 1483.8 L1236.1 1480.9 L1236.5 1479.3 L1237 1479.9 L1237.5 1477.5 L1238 1475.2 L1238.4 1474.6 L1238.9 1473.3 L1239.4 1472.7 L1239.9 1469.8 L1240.3 1468.8 L1240.8 1469.4 L1241.3 1467.4 L1241.8 1469.5 L1242.2 1469.8 L1242.7 1471.9 L1243.2 1473.7 L1243.7 1476.1 L1244.1 1477.7 L1244.6 1480 L1245.1 1481.6 L1245.5 1482.2 L1246 1484 L1246.5 1483.9 L1246.9 1483.8 L1247.4 1483 L1247.9 1483.6 L1248.4 1483.2 L1248.8 1483.6 L1249.3 1481.5 L1249.8 1483.2 L1250.3 1481.1 L1250.7 1483.1 L1251.2 1482.8 L1251.7 1483.1 L1252.2 1484.8 L1252.6 1484.5 L1253.1 1484.7 L1253.6 1486.2 L1254.1 1487 L1254.5 1486.9 L1255 1487 L1255.5 1487.8 L1256 1488.5 L1256.4 1489.8 L1256.9 1489.4 L1257.4 1490.3 L1257.9 1489.9 L1258.3 1488.8 L1258.8 1488 L1259.2 1488.4 L1259.7 1487.8 L1260.2 1486.2 L1260.6 1485.1 L1261.1 1483.6 L1261.6 1482.9 L1262 1481.6 L1262.5 1481.7 L1262.9 1480.8 L1263.4 1478.7 L1263.9 1479.7 L1264.3 1477.4 L1264.8 1477.7 L1265.2 1476.9 L1265.7 1476.6 L1266.2 1474.1 L1266.6 1473.9 L1267.1 1474.3 L1267.5 1471.4 L1268 1470.7 L1268.5 1471.2 L1268.9 1470.3 L1269.4 1470.6 L1269.8 1469.5 L1270.3 1467.9 L1270.8 1467.8 L1271.2 1465.5 L1271.7 1464.4 L1272.2 1463.6 L1272.6 1461.7 L1273.1 1460.5 L1273.5 1459.9 L1274 1458.2 L1274.5 1454.7 L1275 1449.1 L1275.5 1443.9 L1276 1439 L1276.5 1430.2 L1277 1420.9 L1277.5 1411.6 L1278 1402.1 L1278.5 1393.4 L1279 1384.5 L1279.5 1375 L1280 1370.9 L1280.5 1367.1 L1280.9 1363.5 L1281.4 1359 L1281.9 1364.2 L1282.5 1369.7 L1283 1375.3 L1283.5 1382.2 L1283.9 1389.8 L1284.4 1398 L1284.8 1405.3 L1285.3 1412.5 L1285.8 1419.9 L1286.3 1428.4 L1286.9 1436.2 L1287.4 1443.7 L1287.9 1445 L1288.3 1445.6 L1288.8 1445.4 L1289.2 1445.6 L1289.7 1446.8 L1290.1 1448.1 L1290.6 1448.8 L1291 1448.6 L1291.5 1449.3 L1292 1451.8 L1292.4 1453.2 L1292.9 1454 L1293.4 1457 L1293.9 1457.6 L1294.3 1457.6 L1294.8 1459.9 L1295.3 1462.4 L1295.8 1462.8 L1296.2 1465.2 L1296.7 1465.1 L1297.2 1467.4 L1297.7 1470.3 L1298.1 1471.3 L1298.6 1473 L1299.1 1473.5 L1299.6 1475.8 L1300.1 1477.5 L1300.6 1478.3 L1301 1480.7 L1301.5 1482 L1302 1484.6 L1302.5 1483.9 L1302.9 1483.8 L1303.4 1483.4 L1303.8 1483.7 L1304.3 1485.5 L1304.7 1484.2 L1305.2 1484.5 L1305.6 1484.9 L1306.1 1486.1 L1306.5 1487.1 L1307 1487 L1307.5 1483.8 L1308 1478.3 L1308.5 1474.5 L1309 1472.7 L1309.5 1467.9 L1310 1465.2 L1310.5 1460.7 L1311.1 1453.4 L1311.7 1446.9 L1312.3 1439.4 L1312.9 1446.6 L1313.4 1455.4 L1314 1461.6 L1314.5 1463.5 L1314.9 1466.3 L1315.4 1468.5 L1315.9 1468.6 L1316.4 1471.5 L1316.8 1471.6 L1317.3 1473.4 L1317.8 1473 L1318.3 1474.3 L1318.8 1474.3 L1319.2 1474.7 L1319.7 1477.7 L1320.2 1478.4 L1320.7 1477.9 L1321.2 1480.1 L1321.6 1480.7 L1322.1 1480.3 L1322.6 1481.8 L1323.1 1482.6 L1323.5 1481.5 L1324 1482.5 L1324.4 1480.8 L1324.9 1481.1 L1325.3 1482 L1325.8 1481 L1326.2 1481.4 L1326.7 1482.9 L1327.1 1482.1 L1327.6 1483 L1328 1481.9 L1328.5 1481.9 L1328.9 1482.5 L1329.4 1482.3 L1329.8 1484.4 L1330.3 1482.8 L1330.7 1483.4 L1331.2 1482.4 L1331.6 1483.4 L1332.1 1483.1 L1332.5 1483.1 L1333 1482.3 L1333.5 1482.2 L1333.9 1483.6 L1334.4 1482.2 L1334.9 1481.7 L1335.3 1481.3 L1335.8 1481.3 L1336.3 1481 L1336.7 1480.2 L1337.2 1481.5 L1337.7 1480.5 L1338.1 1479.9 L1338.6 1480.9 L1339.1 1479.2 L1339.5 1479.4 L1340 1480.6 L1340.5 1478.8 L1340.9 1479.6 L1341.4 1480.5 L1341.9 1479.6 L1342.4 1477.4 L1342.8 1477.1 L1343.3 1477.2 L1343.8 1475.7 L1344.3 1476.3 L1344.7 1473.8 L1345.2 1474.8 L1345.7 1472.9 L1346.2 1471.5 L1346.6 1471.2 L1347.1 1469.6 L1347.6 1470.2 L1348.1 1466 L1348.6 1464.4 L1349 1460.4 L1349.5 1456.8 L1350 1453.3 L1350.5 1450.8 L1351 1446.9 L1351.4 1445.6 L1351.9 1440.9 L1352.3 1439.1 L1352.8 1436.3 L1353.3 1439.8 L1353.9 1441.9 L1354.5 1446.4 L1355 1448.7 L1355.5 1452.3 L1356 1455.1 L1356.5 1457.5 L1357 1460.6 L1357.5 1462.9 L1358 1466.1 L1358.5 1470.7 L1359 1472.4 L1359.5 1473.9 L1359.9 1473.3 L1360.4 1475.1 L1360.9 1475.4 L1361.3 1476.4 L1361.8 1476.7 L1362.3 1476.8 L1362.7 1478.1 L1363.2 1478.7 L1363.7 1479.1 L1364.2 1481.3 L1364.6 1481 L1365.1 1482 L1365.6 1484 L1366 1484.5 L1366.5 1485.6 L1367 1486.3 L1367.4 1485.4 L1367.9 1486.5 L1368.4 1486.7 L1368.8 1489.1 L1369.3 1489.9 L1369.8 1488.4 L1370.2 1487.8 L1370.7 1487.5 L1371.2 1486.8 L1371.6 1484.8 L1372.1 1485.4 L1372.6 1483.4 L1373 1483.2 L1373.5 1481.3 L1374 1481.3 L1374.4 1483.5 L1374.9 1483.3 L1375.3 1483.6 L1375.8 1482.3 L1376.3 1482.6 L1376.7 1483.2 L1377.2 1483.6 L1377.7 1484.2 L1378.1 1484.7 L1378.6 1484.2 L1379 1485.1 L1379.5 1486.2 L1380 1485.4 L1380.4 1487.4 L1380.9 1487 L1381.3 1487.7 L1381.8 1486.9 L1382.3 1487.1 L1382.7 1487.3 L1383.2 1486.2 L1383.6 1485.1 L1384.1 1486.8 L1384.6 1486.3 L1385 1484.8 L1385.5 1483.8 L1386 1485.3 L1386.4 1484.2 L1386.9 1482.4 L1387.3 1482.4 L1387.8 1481.6 L1388.3 1482.8 L1388.7 1480.9 L1389.2 1482.2 L1389.7 1481.3 L1390.1 1479.3 L1390.6 1480.5 L1391 1479.6 L1391.5 1480.2 L1392 1480.1 L1392.4 1478.6 L1392.9 1477.9 L1393.4 1479.7 L1393.8 1478.2 L1394.3 1479.2 L1394.7 1478.4 L1395.2 1478.2 L1395.7 1479 L1396.1 1479.1 L1396.6 1479.2 L1397 1478.8 L1397.5 1480.9 L1397.9 1480.8 L1398.4 1481.5 L1398.8 1483.1 L1399.3 1481.7 L1399.8 1483.8 L1400.2 1482.5 L1400.7 1484.4 L1401.1 1484.9 L1401.6 1483.9 L1402 1484.8 L1402.5 1486.1 L1403 1485.4 L1403.4 1485.3 L1403.9 1484.8 L1404.3 1484.4 L1404.8 1485.3 L1405.2 1485.8 L1405.7 1485.9 L1406.1 1486.7 L1406.6 1486.9 L1407 1488.9 L1407.5 1489.4 L1407.9 1489 L1408.4 1489.6 L1408.8 1490.9 L1409.3 1491.3 L1409.7 1493.1 L1410.2 1492.2 L1410.7 1490.3 L1411.2 1489.8 L1411.6 1486.2 L1412.1 1485.4 L1412.6 1483 L1413.1 1482.4 L1413.6 1479.9 L1414 1478.6 L1414.5 1475.3 L1415 1474.7 L1415.5 1474 L1415.9 1473.1 L1416.4 1473.2 L1416.9 1472.8 L1417.3 1470.5 L1417.8 1470.3 L1418.3 1469.9 L1418.8 1469 L1419.2 1468.1 L1419.7 1468 L1420.2 1467.3 L1420.6 1468.2 L1421.1 1467.3 L1421.6 1467.4 L1422 1468.8 L1422.5 1470.1 L1423 1470.7 L1423.4 1471.1 L1423.9 1471.8 L1424.4 1472.5 L1424.8 1475.8 L1425.3 1476.1 L1425.8 1473.7 L1426.3 1474.4 L1426.8 1474.3 L1427.4 1472.5 L1427.9 1470.6 L1428.4 1470.7 L1428.9 1472.2 L1429.4 1473.2 L1430 1475.6 L1430.5 1476 L1431 1479.8 L1431.5 1480.8 L1432 1480.8 L1432.4 1481.5 L1432.9 1480.7 L1433.3 1479.8 L1433.8 1479.7 L1434.3 1479.4 L1434.7 1479.1 L1435.2 1480.8 L1435.6 1480.7 L1436.1 1479.1 L1436.6 1478.6 L1437 1479.4 L1437.5 1479.6 L1437.9 1479.5 L1438.4 1477.4 L1438.8 1478.6 L1439.3 1478.5 L1439.8 1478 L1440.2 1476.8 L1440.7 1476.4 L1441.1 1477.9 L1441.6 1476.6 L1442.1 1476.7 L1442.5 1477.1 L1443 1476.6 L1443.4 1477.6 L1443.9 1476.2 L1444.4 1476.6 L1444.9 1478.7 L1445.3 1479.8 L1445.8 1481.1 L1446.3 1481.8 L1446.8 1483.2 L1447.3 1484.2 L1447.7 1484 L1448.2 1484.9 L1448.7 1485 L1449.2 1486.3 L1449.7 1487.9 L1450.1 1487.6 L1450.6 1489.8 L1451.1 1489.3 L1451.6 1490.1 L1452 1491.5 L1452.5 1489.5 L1452.9 1489.5 L1453.4 1490.6 L1453.8 1490.1 L1454.3 1491.5 L1454.7 1489.9 L1455.2 1492 L1455.6 1492.3 L1456.1 1492.3 L1456.5 1491.6 L1457 1491.4 L1457.4 1492.5 L1457.9 1492.3 L1458.3 1492.3 L1458.8 1492.3 L1459.2 1492.7 L1459.7 1493.4 L1460.1 1493.9 L1460.6 1494.1 L1461 1492.4 L1461.5 1492.7 L1462 1492.3 L1462.4 1491.9 L1462.9 1490.7 L1463.4 1489.6 L1463.9 1488.6 L1464.3 1488.5 L1464.8 1488.1 L1465.3 1488.7 L1465.8 1488.1 L1466.2 1487.5 L1466.7 1487.2 L1467.2 1487.2 L1467.6 1486.3 L1468.1 1486.8 L1468.5 1485 L1469 1486.4 L1469.4 1486.2 L1469.9 1485.5 L1470.3 1486 L1470.8 1486.7 L1471.2 1485.4 L1471.7 1485.6 L1472.1 1484.5 L1472.6 1484.4 L1473.1 1485.5 L1473.5 1483.3 L1474 1483.4 L1474.4 1484.4 L1474.9 1483.7 L1475.3 1482.8 L1475.8 1484.2 L1476.2 1483.6 L1476.7 1484.2 L1477.1 1483.9 L1477.6 1484.2 L1478 1484.4 L1478.5 1484.1 L1478.9 1483.5 L1479.4 1483.7 L1479.9 1485.5 L1480.3 1484.6 L1480.8 1483.6 L1481.2 1485.3 L1481.7 1483.8 L1482.1 1483.4 L1482.6 1484.4 L1483 1483.7 L1483.5 1484.2 L1483.9 1484.3 L1484.4 1483.5 L1484.8 1484.3 L1485.3 1483.1 L1485.8 1484.1 L1486.2 1484.4 L1486.7 1483.3 L1487.2 1484.2 L1487.6 1483.4 L1488.1 1484.4 L1488.6 1485.5 L1489 1484.9 L1489.5 1485.4 L1489.9 1485.6 L1490.4 1484.2 L1490.9 1486.5 L1491.3 1486 L1491.8 1484.7 L1492.3 1486.6 L1492.7 1485.7 L1493.2 1485.4 L1493.7 1487.4 L1494.1 1486.7 L1494.6 1487.3 L1495.1 1484.7 L1495.5 1485 L1496 1482 L1496.4 1481.2 L1496.9 1480.3 L1497.3 1478.2 L1497.8 1478.3 L1498.2 1476.2 L1498.7 1475.1 L1499.2 1474.9 L1499.6 1472.9 L1500.1 1472.8 L1500.5 1471.3 L1501 1471 L1501.4 1469.4 L1501.9 1469.3 L1502.4 1469.8 L1502.8 1468.7 L1503.3 1470.7 L1503.8 1470.4 L1504.2 1472 L1504.7 1472.4 L1505.2 1473.3 L1505.7 1472 L1506.1 1473 L1506.6 1474.3 L1507.1 1475.3 L1507.5 1475.1 L1508 1473.9 L1508.5 1474.2 L1509 1471.9 L1509.5 1471.9 L1509.9 1471.4 L1510.4 1468.6 L1510.9 1469.4 L1511.4 1467.7 L1511.9 1465.6 L1512.4 1464.3 L1512.8 1463.8 L1513.3 1463.6 L1513.8 1461.8 L1514.3 1459.6 L1514.8 1455.9 L1515.3 1452.6 L1515.8 1450.7 L1516.4 1445.7 L1516.9 1443 L1517.4 1437.9 L1517.9 1431.1 L1518.4 1422.7 L1519 1414.7 L1519.5 1407.7 L1520 1399.6 L1520.5 1392 L1521 1371.7 L1521.5 1351.3 L1522 1330 L1522.5 1309.8 L1523.1 1294.7 L1523.7 1280 L1524.3 1265 L1524.9 1280.4 L1525.4 1295.3 L1526 1309.5 L1526.5 1321.6 L1526.9 1334.1 L1527.4 1345.9 L1527.9 1357.5 L1528.3 1369.5 L1528.8 1381.1 L1529.3 1389.1 L1529.7 1396 L1530.2 1403.9 L1530.6 1411 L1531.1 1417.8 L1531.5 1425.5 L1532 1432.3 L1532.5 1435.9 L1532.9 1437 L1533.4 1437.6 L1533.8 1440.7 L1534.3 1443.2 L1534.7 1445.6 L1535.2 1447.9 L1535.6 1449.3 L1536.1 1451.1 L1536.5 1452.2 L1537 1455.4 L1537.5 1455.9 L1538 1456.3 L1538.4 1458.4 L1538.9 1460.8 L1539.4 1459.7 L1539.9 1461 L1540.4 1463.3 L1540.9 1463.3 L1541.3 1464.2 L1541.8 1465.7 L1542.3 1466.1 L1542.8 1467.4 L1543.2 1467.8 L1543.7 1469.3 L1544.2 1469.9 L1544.6 1468.1 L1545.1 1469.9 L1545.5 1471 L1546 1471.8 L1546.5 1472.2 L1546.9 1472.4 L1547.4 1473 L1547.9 1472.5 L1548.3 1472.4 L1548.8 1473.7 L1549.2 1474 L1549.7 1474.3 L1550.1 1473.8 L1550.6 1473.2 L1551 1474.6 L1551.5 1474.8 L1551.9 1474.5 L1552.4 1475.1 L1552.8 1474.7 L1553.3 1475.5 L1553.7 1475.4 L1554.2 1474.8 L1554.6 1475.8 L1555.1 1476 L1555.5 1477.8 L1556 1476.8 L1556.4 1476.8 L1556.9 1476.7 L1557.3 1476.9 L1557.8 1477.3 L1558.3 1477.2 L1558.7 1477.3 L1559.2 1479.8 L1559.7 1479.2 L1560.2 1479.6 L1560.6 1480.4 L1561.1 1480.2 L1561.6 1480.3 L1562.1 1480.5 L1562.5 1481.5 L1563 1481.9 L1563.5 1482.7 L1563.9 1482.1 L1564.4 1482.9 L1564.8 1481.2 L1565.3 1482.3 L1565.8 1481.2 L1566.2 1479.6 L1566.7 1479.5 L1567.2 1480.2 L1567.6 1480.8 L1568.1 1478.9 L1568.6 1479.6 L1569 1478.4 L1569.5 1479.2 L1569.9 1476.9 L1570.4 1477.5 L1570.9 1478.8 L1571.3 1477.5 L1571.8 1477.7 L1572.2 1477.4 L1572.7 1478 L1573.2 1478.5 L1573.6 1479.8 L1574.1 1478.9 L1574.6 1479.6 L1575 1479.4 L1575.5 1481 L1575.9 1482.2 L1576.4 1482.3 L1576.9 1481.9 L1577.3 1483.8 L1577.8 1484.9 L1578.3 1484.7 L1578.7 1484.1 L1579.2 1486.4 L1579.6 1487.2 L1580.1 1486.4 L1580.6 1486.1 L1581 1486.4 L1581.5 1487.4 L1582 1488.4 L1582.4 1488 L1582.9 1488.9 L1583.3 1487.3 L1583.8 1487.8 L1584.2 1488.6 L1584.7 1488.1 L1585.1 1487.4 L1585.6 1488.3 L1586 1487.7 L1586.5 1487.2 L1587 1488.3 L1587.4 1487.6 L1587.8 1489.3 L1588.3 1488.8 L1588.8 1489.4 L1589.2 1489.8 L1589.7 1489.2 L1590.1 1489.8 L1590.5 1488.6 L1591 1490.6 L1591.5 1489.3 L1591.9 1490 L1592.4 1487.3 L1592.8 1488.3 L1593.3 1488.2 L1593.7 1486.9 L1594.2 1485.9 L1594.6 1485.7 L1595.1 1485.3 L1595.5 1486.6 L1596 1484.9 L1596.4 1486.5 L1596.9 1485.4 L1597.3 1485.5 L1597.8 1485.5 L1598.2 1485.2 L1598.7 1485.3 L1599.1 1485 L1599.6 1484.2 L1600 1485.1 L1600.5 1483.8 L1600.9 1484.9 L1601.4 1484.9 L1601.9 1484.9 L1602.3 1483.7 L1602.8 1484.7 L1603.2 1485.1 L1603.7 1483.8 L1604.1 1483.3 L1604.6 1483.9 L1605 1484.8 L1605.5 1482.4 L1605.9 1481.8 L1606.4 1482.5 L1606.8 1482.5 L1607.3 1482.4 L1607.7 1481.1 L1608.2 1482.2 L1608.6 1480 L1609.1 1480.8 L1609.5 1478.9 L1610 1478.3 L1610.4 1478.4 L1610.9 1478 L1611.3 1478.9 L1611.8 1478.8 L1612.3 1478.2 L1612.7 1480.3 L1613.2 1479.2 L1613.7 1479 L1614.1 1479.3 L1614.6 1480.9 L1615 1481.7 L1615.5 1480.2 L1616 1480.3 L1616.4 1482.5 L1616.9 1481.6 L1617.4 1483.8 L1617.8 1483 L1618.3 1483.7 L1618.8 1483.4 L1619.2 1484.9 L1619.7 1484.5 L1620.1 1484.5 L1620.6 1486.3 L1621.1 1484.7 L1621.5 1486.5 L1622 1485.3 L1622.5 1486.7 L1622.9 1486.2 L1623.4 1487.3 L1623.8 1485.4 L1624.3 1486.7 L1624.7 1486.3 L1625.2 1487.6 L1625.6 1487.7 L1626.1 1486.9 L1626.5 1485.9 L1627 1486 L1627.4 1486.1 L1627.9 1486.5 L1628.3 1486 L1628.8 1486 L1629.2 1487.3 L1629.7 1487 L1630.1 1486.2 L1630.6 1487.8 L1631 1485.9 L1631.5 1486.7 L1631.9 1485.6 L1632.4 1487.2 L1632.9 1487.2 L1633.3 1485.7 L1633.8 1486.8 L1634.2 1486.9 L1634.7 1485.5 L1635.1 1485.6 L1635.6 1486 L1636 1487 L1636.5 1485.3 L1636.9 1486.6 L1637.4 1486.5 L1637.8 1486.2 L1638.3 1486.6 L1638.7 1487.3 L1639.2 1485.8 L1639.6 1487.4 L1640.1 1486.2 L1640.5 1487.1 L1641 1487.1 L1641.4 1485.3 L1641.9 1486.8 L1642.3 1487 L1642.8 1485.1 L1643.3 1484.4 L1643.7 1484.6 L1644.2 1486.6 L1644.6 1484.3 L1645.1 1486.4 L1645.5 1484.8 L1646 1486.4 L1646.4 1485.1 L1646.9 1485.5 L1647.3 1487 L1647.8 1485.8 L1648.2 1486.6 L1648.7 1488.2 L1649.1 1487.9 L1649.6 1488.5 L1650 1489 L1650.5 1486.5 L1650.9 1486.8 L1651.4 1488 L1651.8 1487.6 L1652.3 1485.9 L1652.7 1486.8 L1653.2 1486 L1653.7 1485.7 L1654.1 1484.1 L1654.6 1483 L1655.1 1484.6 L1655.6 1482.5 L1656 1483.3 L1656.5 1480.9 L1657 1481.3 L1657.5 1479.9 L1657.9 1480.1 L1658.4 1479 L1658.9 1480.2 L1659.3 1478.9 L1659.8 1480.3 L1660.2 1479.7 L1660.7 1478.8 L1661.2 1479.4 L1661.6 1479.8 L1662.1 1480.8 L1662.5 1479.5 L1663 1479.2 L1663.4 1481 L1663.9 1480.8 L1664.4 1480.5 L1664.8 1479.4 L1665.3 1479.1 L1665.7 1479.2 L1666.2 1478.6 L1666.7 1478.4 L1667.1 1479.4 L1667.6 1479 L1668 1479.3 L1668.5 1478.7 L1669 1477.7 L1669.4 1479.2 L1669.9 1479 L1670.3 1478.7 L1670.8 1478.8 L1671.2 1479.2 L1671.7 1480 L1672.2 1479.8 L1672.6 1479.5 L1673.1 1478.8 L1673.5 1478.6 L1674 1479 L1674.5 1480.6 L1674.9 1479.4 L1675.4 1479.6 L1675.8 1479.8 L1676.3 1479.3 L1676.8 1481.5 L1677.2 1479.2 L1677.7 1480.8 L1678.1 1481.7 L1678.6 1480.2 L1679.1 1481.2 L1679.5 1480.7 L1680 1480.5 L1680.4 1480.6 L1680.9 1480.5 L1681.4 1482.3 L1681.8 1482.3 L1682.3 1482.7 L1682.7 1480.8 L1683.2 1482.5 L1683.7 1479.6 L1684.1 1478.4 L1684.6 1476.1 L1685.1 1473.6 L1685.5 1473.3 L1686 1469.1 L1686.5 1468.7 L1687 1466.8 L1687.4 1463.8 L1687.9 1461 L1688.4 1464.2 L1689 1467.6 L1689.5 1468.1 L1690 1471.4 L1690.5 1474 L1691 1475.3 L1691.5 1478.4 L1692 1479.9 L1692.5 1482.5 L1693 1482.6 L1693.4 1482.7 L1693.9 1481.7 L1694.3 1482.3 L1694.8 1482 L1695.2 1481.2 L1695.7 1482 L1696.1 1481.1 L1696.6 1482.5 L1697.1 1481.4 L1697.5 1481.9 L1698 1481.3 L1698.4 1481.1 L1698.9 1480.4 L1699.3 1480.1 L1699.8 1481.9 L1700.3 1480.9 L1700.7 1480.9 L1701.2 1480.9 L1701.6 1481.6 L1702.1 1480.2 L1702.5 1480.1 L1703 1481.6 L1703.4 1480.8 L1703.9 1481.2 L1704.4 1481.7 L1704.8 1481.8 L1705.3 1481.8 L1705.7 1480 L1706.2 1480.9 L1706.6 1482.1 L1707.1 1482.2 L1707.5 1480.6 L1708 1480.8 L1708.5 1481.2 L1708.9 1480.9 L1709.4 1481.6 L1709.8 1482.8 L1710.3 1482.2 L1710.7 1482 L1711.2 1481.1 L1711.7 1481.9 L1712.1 1483.3 L1712.6 1482.6 L1713 1482 L1713.5 1482.1 L1713.9 1482.8 L1714.4 1482.7 L1714.8 1481.3 L1715.3 1482.4 L1715.8 1481.6 L1716.2 1482 L1716.6 1481.3 L1717.1 1481.6 L1717.5 1481.5 L1718 1481.5 L1718.5 1480.6 L1718.9 1481.1 L1719.3 1481.9 L1719.8 1480.7 L1720.2 1481.2 L1720.7 1482.8 L1721.1 1482.1 L1721.6 1482.6 L1722 1482.8 L1722.5 1484.5 L1723 1483.1 L1723.4 1484.8 L1723.8 1485.7 L1724.3 1484.5 L1724.8 1485.4 L1725.2 1486.6 L1725.7 1486.4 L1726.1 1486 L1726.5 1485.4 L1727 1486.6 L1727.5 1486.6 L1727.9 1487.6 L1728.3 1486.9 L1728.8 1487.3 L1729.2 1488.1 L1729.7 1488.7 L1730.2 1487.8 L1730.6 1487.9 L1731 1488.4 L1731.5 1489.3 L1732 1487.6 L1732.4 1489.5 L1732.8 1488.9 L1733.3 1488.2 L1733.8 1488.9 L1734.2 1488.2 L1734.7 1487.6 L1735.1 1489.3 L1735.5 1488.6 L1736 1489.2 L1736.5 1489.3 L1736.9 1490.4 L1737.4 1490.2 L1737.8 1488.6 L1738.3 1490.1 L1738.7 1489.9 L1739.2 1490.1 L1739.7 1491.1 L1740.1 1490.2 L1740.6 1490.4 L1741 1491.4 L1741.5 1490.4 L1741.9 1490.5 L1742.4 1490.6 L1742.8 1491.4 L1743.3 1491.1 L1743.8 1490.7 L1744.2 1489.3 L1744.7 1487.9 L1745.1 1488.9 L1745.6 1488.2 L1746 1488.4 L1746.5 1488 L1746.9 1486.1 L1747.4 1486 L1747.9 1485.3 L1748.3 1486.7 L1748.8 1484.6 L1749.2 1484.2 L1749.7 1485.5 L1750.1 1484.6 L1750.6 1482.9 L1751 1484 L1751.5 1483.6 L1752 1482.2 L1752.4 1480.3 L1752.9 1480.9 L1753.4 1479.4 L1753.9 1479 L1754.3 1479.1 L1754.8 1477.8 L1755.3 1477.1 L1755.8 1474.5 L1756.2 1474.1 L1756.7 1473.8 L1757.2 1467.6 L1757.7 1464.9 L1758.2 1458.2 L1758.8 1453.2 L1759.3 1448.4 L1759.8 1443.2 L1760.3 1434.7 L1760.9 1424.2 L1761.4 1414.5 L1761.9 1424.2 L1762.5 1433.6 L1763 1441.7 L1763.5 1428.8 L1764 1414.9 L1764.5 1400.3 L1765.1 1383 L1765.6 1365.1 L1766.2 1348 L1766.8 1365 L1767.4 1382.2 L1768 1400 L1768.5 1421.6 L1769 1444.3 L1769.5 1427.6 L1770 1411.8 L1770.5 1395.7 L1771 1380.3 L1771.5 1356.4 L1771.9 1333.8 L1772.4 1310.1 L1773 1294.2 L1773.5 1279.3 L1774 1292.7 L1774.5 1306.5 L1775 1319.9 L1775.5 1340.6 L1776 1360.9 L1776.4 1381.5 L1776.9 1402.5 L1777.4 1422.6 L1777.9 1427.7 L1778.3 1432.9 L1778.8 1437.1 L1779.3 1441.3 L1779.8 1447.1 L1780.2 1450.7 L1780.7 1456.5 L1781.2 1459.4 L1781.7 1465.1 L1782.1 1470.5 L1782.6 1473.9 L1783.1 1476.5 L1783.5 1475.2 L1784 1477.1 L1784.4 1476.8 L1784.9 1479.2 L1785.3 1478.9 L1785.8 1479.9 L1786.2 1479.7 L1786.7 1480.6 L1787.1 1481.1 L1787.6 1480.6 L1788 1480.9 L1788.5 1482.9 L1788.9 1481.7 L1789.4 1484 L1789.8 1482.7 L1790.3 1483 L1790.7 1483.5 L1791.2 1485.7 L1791.6 1486.6 L1792.1 1485.8 L1792.5 1486.9 L1793 1486.5 L1793.5 1487.8 L1793.9 1487.1 L1794.4 1485.6 L1794.9 1485.1 L1795.3 1486.5 L1795.8 1484.8 L1796.3 1486.5 L1796.7 1485.1 L1797.2 1484.8 L1797.7 1485.5 L1798.1 1484.7 L1798.6 1485.2 L1799.1 1484.1 L1799.5 1485.7 L1800 1484.2 L1800.5 1485.4 L1800.9 1483.7 L1801.4 1485.3 L1801.9 1485.7 L1802.3 1484.3 L1802.8 1483.4 L1803.3 1484.2 L1803.8 1484.8 L1804.2 1483.8 L1804.7 1484.5 L1805.2 1483.5 L1805.6 1484.7 L1806.1 1485.7 L1806.6 1485.3 L1807 1486.2 L1807.5 1485.1 L1808 1486.7 L1808.4 1484.8 L1808.9 1486.5 L1809.4 1486.5 L1809.8 1486.2 L1810.3 1484.9 L1810.7 1484 L1811.2 1483.8 L1811.7 1484.4 L1812.1 1483.4 L1812.6 1484.1 L1813.1 1481.7 L1813.5 1482.3 L1814 1482.9 L1814.4 1481.9 L1814.9 1481.4 L1815.4 1480.1 L1815.8 1480 L1816.3 1480.2 L1816.8 1481.5 L1817.2 1481.3 L1817.7 1479.6 L1818.1 1481.1 L1818.6 1478.8 L1819.1 1480 L1819.5 1480.7 L1820 1479.1 L1820.5 1480.9 L1821 1480.6 L1821.4 1479.5 L1821.9 1480.6 L1822.4 1481.2 L1822.8 1481.1 L1823.3 1482.7 L1823.8 1481.7 L1824.3 1483.5 L1824.8 1482.8 L1825.2 1482.5 L1825.7 1483.9 L1826.2 1482.9 L1826.6 1484.2 L1827.1 1485 L1827.6 1484.7 L1828.1 1484 L1828.5 1482.6 L1829 1483.4 L1829.4 1482 L1829.9 1482.9 L1830.4 1481.5 L1830.8 1482.5 L1831.3 1481.8 L1831.7 1481.7 L1832.2 1482.3 L1832.7 1481 L1833.1 1480.9 L1833.6 1482.6 L1834 1481 L1834.5 1482.1 L1834.9 1482 L1835.4 1480.8 L1835.9 1479.7 L1836.3 1479.3 L1836.8 1480.9 L1837.2 1478.8 L1837.7 1479.4 L1838.2 1479.2 L1838.6 1477.9 L1839.1 1478.5 L1839.5 1477.5 L1840 1478.1 L1840.5 1477.4 L1841 1476.5 L1841.4 1475.5 L1841.9 1475.3 L1842.4 1474.3 L1842.8 1473.5 L1843.3 1473.1 L1843.8 1474 L1844.3 1472.5 L1844.8 1472.9 L1845.2 1470.2 L1845.7 1471.8 L1846.2 1470.1 L1846.6 1470.3 L1847.1 1469.2 L1847.6 1468.9 L1848.1 1464 L1848.5 1461.5 L1849 1456.3 L1849.5 1452.8 L1849.9 1448.5 L1850.4 1445.5 L1850.8 1441.9 L1851.3 1436.4 L1851.8 1434 L1852.2 1428.8 L1852.7 1425.4 L1853.3 1383.3 L1853.9 1341.9 L1854.5 1300.3 L1855 1192.1 L1855.5 1083.4 L1855.9 975.4 L1856.4 867.6 L1856.9 975.8 L1857.3 1084.3 L1857.8 1191.4 L1858.3 1300.1 L1858.8 1325.2 L1859.2 1350.3 L1859.7 1374.8 L1860.2 1400.3 L1860.7 1407.8 L1861.2 1416.2 L1861.6 1423.1 L1862.1 1432.6 L1862.6 1439.2 L1863 1446.6 L1863.5 1453.7 L1864 1461.9 L1864.5 1464.1 L1864.9 1465 L1865.4 1464.8 L1865.9 1466.3 L1866.3 1466.9 L1866.8 1468.1 L1867.3 1469.2 L1867.8 1470.5 L1868.2 1473.1 L1868.7 1474.2 L1869.2 1474.8 L1869.6 1475.1 L1870.1 1476.3 L1870.6 1478.1 L1871 1479.7 L1871.5 1480.5 L1872 1480.9 L1872.4 1480.5 L1872.9 1482.2 L1873.3 1483.4 L1873.8 1483.9 L1874.2 1482.9 L1874.7 1485 L1875.2 1484.8 L1875.6 1484.9 L1876.1 1487.5 L1876.5 1487.4 L1877 1488.2 L1877.5 1487.3 L1877.9 1489.6 L1878.4 1490.5 L1878.8 1491 L1879.3 1491.3 L1879.7 1492.1 L1880.2 1492.5 L1880.7 1491.5 L1881.1 1490.7 L1881.6 1491.1 L1882 1490.5 L1882.5 1490.3 L1882.9 1488.4 L1883.4 1489.5 L1883.8 1488 L1884.3 1488.6 L1884.7 1486.1 L1885.2 1487.8 L1885.6 1487.3 L1886.1 1486 L1886.5 1487.3 L1887 1485.8 L1887.4 1485.7 L1887.9 1486.3 L1888.3 1485.7 L1888.8 1486.2 L1889.3 1487.2 L1889.7 1486.6 L1890.2 1486.4 L1890.6 1485.2 L1891.1 1485.7 L1891.5 1485.3 L1892 1484.5 L1892.4 1484.7 L1892.9 1483.9 L1893.3 1482.5 L1893.8 1481.2 L1894.2 1482.1 L1894.7 1482.1 L1895.1 1480.5 L1895.6 1481 L1896 1481.3 L1896.5 1481 L1897 1478.4 L1897.4 1478.8 L1897.9 1477 L1898.3 1476.4 L1898.8 1477.4 L1899.2 1475.7 L1899.7 1475.4 L1900.1 1474.3 L1900.6 1473.2 L1901 1472.1 L1901.5 1471.7 L1902 1467.1 L1902.5 1460.9 L1903 1454.3 L1903.5 1448.1 L1904 1438.5 L1904.5 1428.3 L1905 1417.2 L1905.5 1428.1 L1906 1439.5 L1906.5 1450.3 L1907 1453 L1907.5 1458.6 L1907.9 1461.4 L1908.4 1467.6 L1908.9 1467 L1909.3 1468.2 L1909.8 1470.8 L1910.2 1470.2 L1910.7 1470.6 L1911.2 1473 L1911.6 1473 L1912.1 1474.4 L1912.5 1474 L1913 1474.9 L1913.5 1476.8 L1913.9 1476.4 L1914.4 1478.3 L1914.8 1477.1 L1915.3 1479.4 L1915.8 1477.8 L1916.2 1478.6 L1916.7 1477.2 L1917.2 1477.6 L1917.6 1479.4 L1918.1 1478.1 L1918.6 1478.9 L1919 1477.5 L1919.5 1477.7 L1920 1477 L1920.5 1478.1 L1920.9 1478.9 L1921.4 1478 L1921.9 1477.7 L1922.3 1479 L1922.8 1479 L1923.3 1478.7 L1923.7 1477.5 L1924.2 1479.1 L1924.6 1479 L1925.1 1480.4 L1925.5 1479 L1926 1479.8 L1926.4 1479.8 L1926.9 1479.2 L1927.3 1479.6 L1927.8 1480 L1928.2 1480.6 L1928.7 1479.7 L1929.1 1479.4 L1929.6 1480.9 L1930 1478.8 L1930.5 1481 L1930.9 1481 L1931.4 1481.1 L1931.8 1481.2 L1932.3 1482.3 L1932.7 1483 L1933.2 1483 L1933.6 1483.4 L1934.1 1482.1 L1934.5 1483.1 L1935 1483.1 L1935.4 1485 L1935.9 1484.9 L1936.3 1483.1 L1936.8 1484.2 L1937.2 1484.2 L1937.7 1482.9 L1938.1 1483.8 L1938.6 1484.7 L1939 1484.4 L1939.5 1483.6 L1939.9 1484.8 L1940.4 1483.9 L1940.9 1484.8 L1941.3 1484.8 L1941.8 1486.4 L1942.2 1485.9 L1942.7 1486.5 L1943.2 1486.5 L1943.6 1486.1 L1944.1 1487.7 L1944.5 1487.4 L1945 1487.7 L1945.5 1486.8 L1945.9 1486.6 L1946.4 1487.7 L1946.8 1488.3 L1947.3 1488.4 L1947.8 1487.4 L1948.2 1487 L1948.7 1488 L1949.1 1488.9 L1949.6 1487.3 L1950.1 1488.8 L1950.5 1487.6 L1951 1488.1 L1951.4 1487.6 L1951.9 1488.3 L1952.4 1488.7 L1952.8 1490.2 L1953.3 1490.4 L1953.7 1488.7 L1954.2 1489.1 L1954.7 1490.1 L1955.1 1487.8 L1955.6 1487.6 L1956.1 1487.5 L1956.5 1486.3 L1957 1486.2 L1957.4 1486.1 L1957.9 1485.7 L1958.4 1486.6 L1958.8 1484.5 L1959.3 1483.9 L1959.8 1485.2 L1960.2 1483.6 L1960.7 1484 L1961.1 1483 L1961.6 1482.7 L1962.1 1481.1 L1962.5 1480.1 L1963 1481 L1963.5 1477 L1964 1473.8 L1964.4 1470.7 L1964.9 1467.5 L1965.4 1463 L1965.9 1459.9 L1966.3 1457.8 L1966.8 1453.5 L1967.3 1449.6 L1967.8 1427.1 L1968.2 1403.2 L1968.7 1380.3 L1969.3 1352.4 L1970 1325.7 L1970.5 1344.1 L1971 1362 L1971.5 1379.9 L1972 1388.2 L1972.4 1395.3 L1972.8 1403 L1973.3 1410.6 L1973.8 1418.9 L1974.2 1426.9 L1974.8 1411.2 L1975.4 1395.4 L1976 1380.3 L1976.7 1319.6 L1977.3 1259.8 L1977.8 1248.2 L1978.3 1236.6 L1978.8 1224.2 L1979.3 1249.6 L1979.8 1274.9 L1980.3 1300.3 L1980.8 1319.3 L1981.2 1339.3 L1981.7 1358.5 L1982.1 1377.5 L1982.5 1397 L1983 1416.8 L1983.5 1408.5 L1984 1400.5 L1984.4 1393.4 L1984.9 1385.2 L1985.4 1394.5 L1985.9 1403.8 L1986.4 1413.2 L1986.9 1422.7 L1987.4 1430.7 L1987.9 1437.3 L1988.4 1441.7 L1989 1448.6 L1989.5 1454.9 L1990 1461.8 L1990.5 1467.6 L1991 1468.3 L1991.5 1468.8 L1991.9 1470.1 L1992.4 1470.3 L1992.9 1472.5 L1993.3 1473.3 L1993.8 1474.3 L1994.3 1473.6 L1994.8 1476.1 L1995.2 1477.4 L1995.7 1477.9 L1996.2 1480 L1996.6 1481.1 L1997.1 1481.8 L1997.5 1483.1 L1998 1483.8 L1998.5 1484.3 L1998.9 1482.4 L1999.4 1483.8 L1999.8 1483.7 L2000.3 1483.4 L2000.7 1482.5 L2001.2 1482 L2001.6 1483.2 L2002.1 1483.6 L2002.5 1482.2 L2003 1482 L2003.4 1481.9 L2003.9 1481.5 L2004.3 1482.8 L2004.8 1483.5 L2005.2 1483 L2005.7 1482 L2006.1 1482.9 L2006.6 1481.4 L2007 1483.3 L2007.5 1482.1 L2007.9 1481.4 L2008.4 1482.9 L2008.8 1481.8 L2009.3 1482.1 L2009.8 1481.7 L2010.2 1482.6 L2010.7 1482.7 L2011.1 1483.2 L2011.6 1481.3 L2012 1483.1 L2012.5 1481.2 L2013 1481.4 L2013.4 1482.3 L2013.9 1481.4 L2014.3 1481.3 L2014.8 1481.8 L2015.2 1480.9 L2015.7 1482.3 L2016.2 1480.9 L2016.6 1482.5 L2017.1 1482.4 L2017.5 1481.8 L2018 1480.6 L2018.4 1482.5 L2018.9 1480.7 L2019.3 1481.9 L2019.8 1481.7 L2020.3 1480.7 L2020.7 1481.9 L2021.2 1481.9 L2021.6 1481.3 L2022.1 1480.6 L2022.5 1480.7 L2023 1480.7 L2023.5 1479.4 L2023.9 1480.6 L2024.4 1480.6 L2024.9 1479.8 L2025.3 1480 L2025.8 1478.5 L2026.3 1480.1 L2026.7 1477.8 L2027.2 1478.8 L2027.7 1478 L2028.1 1478.7 L2028.6 1479.3 L2029.1 1479.3 L2029.5 1478.7 L2030 1478.4 L2030.5 1477.5 L2031 1477.4 L2031.5 1476.6 L2031.9 1475.8 L2032.4 1476.5 L2032.9 1475.4 L2033.4 1474.7 L2033.9 1473.5 L2034.4 1474.2 L2034.8 1472.4 L2035.3 1472 L2035.8 1472.2 L2036.3 1472 L2036.8 1466.1 L2037.3 1459.1 L2037.8 1453.1 L2038.3 1446.5 L2038.8 1438.3 L2039.3 1420.2 L2039.8 1401.8 L2040.3 1384.2 L2040.8 1366.2 L2041.3 1348.9 L2041.8 1364.5 L2042.3 1379.7 L2042.8 1394.9 L2043.3 1409.8 L2043.8 1425.2 L2044.3 1431.4 L2044.7 1439.4 L2045.2 1446.6 L2045.7 1451.8 L2046.1 1458.1 L2046.6 1465.3 L2047 1472.7 L2047.5 1480.9 L2048 1481 L2048.4 1480.5 L2048.9 1480.1 L2049.3 1480.5 L2049.8 1480.9 L2050.3 1482.9 L2050.7 1482.7 L2051.2 1484.5 L2051.6 1484.9 L2052.1 1485.2 L2052.6 1485 L2053 1486.3 L2053.5 1485.2 L2053.9 1485.7 L2054.4 1487.4 L2054.9 1487.8 L2055.3 1487.4 L2055.8 1487.6 L2056.2 1487.2 L2056.7 1489.5 L2057.2 1489.2 L2057.6 1490 L2058.1 1490.2 L2058.5 1489.1 L2059 1489.9 L2059.5 1489.3 L2059.9 1490.5 L2060.4 1491.1 L2060.8 1490 L2061.3 1490.3 L2061.8 1490.7 L2062.2 1491.5 L2062.7 1490.9 L2063.1 1489.9 L2063.6 1491.8 L2064 1491.5 L2064.5 1490.7 L2065 1489.6 L2065.4 1491.3 L2065.9 1490.1 L2066.3 1488.6 L2066.8 1488.8 L2067.3 1489.2 L2067.7 1489.5 L2068.2 1488.1 L2068.6 1488.2 L2069.1 1486.8 L2069.5 1486.5 L2070 1487.7 L2070.4 1484.7 L2070.9 1482.3 L2071.3 1481.8 L2071.8 1478.9 L2072.2 1477.4 L2072.7 1476.3 L2073.2 1474.9 L2073.6 1473.3 L2074.1 1471.7 L2074.5 1469.3 L2075 1470.2 L2075.5 1473.8 L2076 1474.3 L2076.5 1477.3 L2077 1479.2 L2077.5 1478.9 L2078 1478 L2078.5 1475.9 L2079 1475.9 L2079.5 1475 L2080 1469.5 L2080.5 1463.9 L2081 1460.9 L2081.5 1455.3 L2082 1450.4 L2082.5 1451.5 L2083 1454.3 L2083.5 1458.5 L2084 1459 L2084.4 1461.8 L2084.9 1465.1 L2085.4 1467.3 L2085.9 1469 L2086.4 1471.3 L2086.9 1468 L2087.4 1466.5 L2088 1466.9 L2088.5 1464.9 L2089 1461.4 L2089.5 1451.5 L2089.9 1442 L2090.4 1434.5 L2090.9 1423.4 L2091.3 1414 L2091.8 1404 L2092.3 1410.7 L2092.8 1416.6 L2093.3 1423.2 L2093.8 1428.8 L2094.3 1434.4 L2094.8 1439.1 L2095.3 1447.2 L2095.8 1452.1 L2096.3 1452.6 L2096.7 1450.3 L2097.2 1447.4 L2097.7 1447.2 L2098.1 1444 L2098.6 1443.2 L2099 1440.5 L2099.5 1439.7 L2100 1440.9 L2100.4 1442.9 L2100.9 1441.6 L2101.4 1444.5 L2101.9 1419.8 L2102.4 1396.8 L2103 1373.3 L2103.5 1350.1 L2104 1315.5 L2104.5 1281.2 L2105 1245.9 L2105.5 1211.3 L2106 1177.2 L2106.5 1220.4 L2107 1263.4 L2107.5 1306.7 L2108 1349.5 L2108.5 1372.4 L2109.1 1393.9 L2109.6 1416.8 L2110.1 1414.4 L2110.5 1411.7 L2111 1408.9 L2111.4 1407.1 L2111.9 1404.3 L2112.3 1402.1 L2112.8 1399.4 L2113.2 1397.8 L2113.7 1395 L2114.1 1392.4 L2114.6 1390.2 L2115.1 1394.6 L2115.6 1400 L2116.1 1404.9 L2116.7 1409.7 L2117.2 1413.8 L2117.7 1418.9 L2118.2 1424.8 L2118.6 1431.6 L2119.1 1436 L2119.6 1442.7 L2120.1 1449.7 L2120.6 1455.2 L2121 1459.4 L2121.5 1465.6 L2122 1466.7 L2122.5 1469 L2122.9 1469.8 L2123.4 1470.5 L2123.9 1471.3 L2124.4 1472.2 L2124.8 1473.6 L2125.3 1474.5 L2125.8 1475.8 L2126.3 1476 L2126.7 1476.8 L2127.2 1477.8 L2127.7 1478.2 L2128.2 1478.1 L2128.6 1476.6 L2129.1 1478.3 L2129.6 1478.8 L2130 1477.9 L2130.5 1479.4 L2130.9 1478.1 L2131.4 1480.3 L2131.9 1479.5 L2132.3 1480.5 L2132.8 1479.8 L2133.3 1480.3 L2133.7 1480.8 L2134.2 1481.1 L2134.6 1480.9 L2135.1 1482.2 L2135.6 1483.9 L2136 1483.6 L2136.5 1484.7 L2137 1485 L2137.4 1485.8 L2137.9 1486.8 L2138.4 1486.8 L2138.9 1486.3 L2139.4 1486.8 L2139.8 1487.8 L2140.3 1487.5 L2140.8 1486.8 L2141.2 1487.2 L2141.7 1486.1 L2142.2 1483.5 L2142.6 1483.4 L2143.1 1482.2 L2143.5 1481.3 L2144 1479.9 L2144.5 1480.2 L2144.9 1480.2 L2145.4 1482.8 L2145.8 1482.5 L2146.3 1484.2 L2146.7 1484.5 L2147.2 1485.8 L2147.6 1487.8 L2148.1 1486.8 L2148.5 1488.6 L2149 1489.8 L2149.5 1489.4 L2149.9 1490.3 L2150.4 1488.7 L2150.8 1489.5 L2151.3 1488.6 L2151.8 1488.9 L2152.2 1486.5 L2152.7 1486.4 L2153.1 1486.2 L2153.6 1487.3 L2154 1484.8 L2154.5 1485 L2155 1485.7 L2155.4 1486.3 L2155.9 1484.4 L2156.3 1485 L2156.8 1485.6 L2157.3 1485.6 L2157.7 1485.7 L2158.2 1485.7 L2158.6 1484.5 L2159.1 1484.5 L2159.5 1484 L2160 1485.6 L2160.5 1484.3 L2160.9 1484.4 L2161.4 1486.1 L2161.8 1485.2 L2162.3 1485.1 L2162.8 1485.2 L2163.2 1485 L2163.7 1485.2 L2164.1 1484.2 L2164.6 1483.6 L2165 1483.5 L2165.5 1483.2 L2166 1483.8 L2166.4 1483.1 L2166.9 1482.8 L2167.3 1483.6 L2167.8 1484.5 L2168.3 1484 L2168.7 1483.2 L2169.2 1484.6 L2169.7 1483.4 L2170.1 1483.5 L2170.6 1484.3 L2171.1 1484.9 L2171.5 1485.9 L2172 1485.6 L2172.5 1486.6 L2172.9 1485.4 L2173.4 1487.8 L2173.9 1486.7 L2174.3 1488.2 L2174.8 1486.6 L2175.3 1488.7 L2175.7 1487.4 L2176.2 1489.1 L2176.7 1489.1 L2177.1 1488.9 L2177.6 1488.1 L2178.1 1487.6 L2178.5 1488.1 L2179 1490 L2179.5 1488.3 L2179.9 1489.6 L2180.4 1489.7 L2180.9 1489.8 L2181.3 1488.6 L2181.8 1488.4 L2182.2 1488.2 L2182.7 1490.2 L2183.2 1488.7 L2183.6 1489.3 L2184.1 1489 L2184.5 1488.1 L2185 1487.6 L2185.5 1487.5 L2185.9 1489.5 L2186.4 1487.7 L2186.8 1489.7 L2187.3 1488.2 L2187.8 1489 L2188.2 1487.6 L2188.7 1489.1 L2189.1 1487.8 L2189.6 1488 L2190.1 1488.4 L2190.5 1487.3 L2191 1487.6 L2191.4 1488.8 L2191.9 1487.6 L2192.4 1487.7 L2192.8 1488.6 L2193.3 1487.2 L2193.7 1487.1 L2194.2 1487.1 L2194.7 1486.1 L2195.1 1484.6 L2195.6 1484.1 L2196.1 1482.4 L2196.6 1482.1 L2197.1 1478.9 L2197.5 1479.1 L2198 1478.3 L2198.5 1476.2 L2198.9 1475.1 L2199.4 1475.4 L2199.8 1474 L2200.3 1474.1 L2200.7 1473.9 L2201.2 1471.6 L2201.6 1470.8 L2202.1 1470.9 L2202.5 1469.3 L2203 1468.6 L2203.5 1461.6 L2204 1453.3 L2204.5 1445.6 L2205 1438.7 L2205.5 1431.5 L2206 1424 L2206.5 1428.6 L2206.9 1432.4 L2207.4 1435.4 L2207.8 1440 L2208.3 1445.4 L2208.7 1449.1 L2209.2 1454 L2209.7 1456.7 L2210.1 1459 L2210.6 1459.6 L2211.1 1463.9 L2211.6 1465.3 L2212.1 1467 L2212.5 1469.2 L2213 1473.3 L2213.5 1471.4 L2214 1470.8 L2214.4 1470.9 L2214.9 1472.1 L2215.4 1470.8 L2215.9 1471.2 L2216.3 1469.5 L2216.8 1470.2 L2217.3 1469.7 L2217.8 1469.2 L2218.2 1470.1 L2218.7 1469.2 L2219.2 1468.5 L2219.7 1472.3 L2220.2 1472.9 L2220.7 1473.9 L2221.2 1475.3 L2221.7 1478.6 L2222.2 1478.3 L2222.6 1477.2 L2223.1 1478.4 L2223.6 1479.1 L2224 1478.7 L2224.5 1478 L2224.9 1478.7 L2225.4 1479.2 L2225.9 1479.6 L2226.3 1478.6 L2226.8 1480.5 L2227.3 1481.1 L2227.7 1480.8 L2228.2 1481.4 L2228.6 1480.4 L2229.1 1482 L2229.6 1480.5 L2230 1480.9 L2230.5 1481.9 L2231 1482.4 L2231.4 1480.3 L2231.9 1480.4 L2232.4 1479.8 L2232.8 1480.5 L2233.3 1479.6 L2233.7 1479.6 L2234.2 1480.7 L2234.7 1480.1 L2235.1 1480.8 L2235.6 1479.2 L2236.1 1479.7 L2236.5 1477.8 L2237 1479.8 L2237.4 1477.8 L2237.9 1478.2 L2238.4 1478 L2238.8 1478.8 L2239.3 1477.4 L2239.8 1478.4 L2240.2 1477.1 L2240.7 1475.7 L2241.1 1476.7 L2241.6 1474.7 L2242.1 1476.1 L2242.5 1474.3 L2243 1473.3 L2243.5 1474.8 L2243.9 1473.1 L2244.4 1473 L2244.8 1472.6 L2245.3 1473.3 L2245.7 1471.7 L2246.2 1472.6 L2246.6 1472.1 L2247.1 1473.6 L2247.5 1471.7 L2248 1473.1 L2248.5 1472.2 L2248.9 1472.7 L2249.4 1473 L2249.8 1473.3 L2250.3 1472.1 L2250.7 1472.6 L2251.2 1472.6 L2251.6 1474.8 L2252.1 1473.1 L2252.5 1473.4 L2253 1474.6 L2253.5 1475 L2253.9 1476 L2254.4 1474.2 L2254.8 1474.9 L2255.3 1474.8 L2255.7 1475.6 L2256.2 1475.2 L2256.6 1474.9 L2257.1 1475.9 L2257.5 1475.2 L2258 1474.2" fill="none" stroke="#0000a8" stroke-width="3.4" stroke-linejoin="round" stroke-linecap="round"/>
<polygon points="776,1246 776,1056 776.6,1053 779.3,1053 779.3,1021 779.9,1019 782.4,1019 782.4,886 783.1,882.6 785.6,882.6 786.1,886 786.1,923 786.8,921 788.9,921 789.5,924 789.5,1491 786.5,1491 786.5,1348 783,1348 783,1246" fill="#0000a8"/>
<line x1="401.8" y1="283" x2="401.8" y2="427.8" stroke="#000" stroke-width="3"/><polygon points="394.8,426.8 408.8,426.8 401.8,453.8" fill="#000"/>
<line x1="705.7" y1="1165.8" x2="705.7" y2="1263.8" stroke="#000" stroke-width="3"/><polygon points="698.7,1262.8 712.7,1262.8 705.7,1289.8" fill="#000"/>
<line x1="1098.2" y1="1123.4" x2="1098.2" y2="1222.4" stroke="#000" stroke-width="3"/><polygon points="1091.2,1221.4 1105.2,1221.4 1098.2,1248.4" fill="#000"/>
<line x1="1282.8" y1="1234" x2="1282.8" y2="1323.8" stroke="#000" stroke-width="3"/><polygon points="1275.8,1322.8 1289.8,1322.8 1282.8,1349.8" fill="#000"/>
<line x1="1522.9" y1="1042.7" x2="1522.9" y2="1224.3" stroke="#000" stroke-width="3"/><polygon points="1515.9,1223.3 1529.9,1223.3 1522.9,1250.3" fill="#000"/>
<line x1="1772.6" y1="1137" x2="1772.6" y2="1227.8" stroke="#000" stroke-width="3"/><polygon points="1765.6,1226.8 1779.6,1226.8 1772.6,1253.8" fill="#000"/>
<line x1="1855.9" y1="728" x2="1855.9" y2="827.1" stroke="#000" stroke-width="3"/><polygon points="1848.9,826.1 1862.9,826.1 1855.9,853.1" fill="#000"/>
<line x1="1979.5" y1="1121.7" x2="1979.5" y2="1190.7" stroke="#000" stroke-width="3"/><polygon points="1972.5,1189.7 1986.5,1189.7 1979.5,1216.7" fill="#000"/>
<line x1="2105.9" y1="1010.5" x2="2105.9" y2="1140.4" stroke="#000" stroke-width="3"/><polygon points="2098.9,1139.4 2112.9,1139.4 2105.9,1166.4" fill="#000"/>
<g font-family="Liberation Serif, Times New Roman, serif" fill="#000">
<text x="294.33" y="266.2" font-size="60.2">C I 247.86</text>
<text x="572.45" y="1155.3" font-size="50">CN 358.6</text>
<text x="988.36" y="1114.3" font-size="50">N I 500.51</text>
<text x="1172.56" y="1224" font-size="50">N I 567.80</text>
<text x="1413.06" y="1033.3" font-size="50">H I 656.29</text>
<text x="1619.86" y="1125" font-size="50">N I 746.83</text>
<text x="1748.15" y="719" font-size="50">O I 777.19</text>
<text x="1874.96" y="1110.5" font-size="50">N I 821.63</text>
<text x="2011.86" y="997.4" font-size="50">N I 868.34</text>
</g>
<line x1="312.6" y1="1444.7" x2="745.4" y2="682.8" stroke="#000" stroke-width="2.8" stroke-dasharray="18 17.82"/><polygon points="759.3,658 739.4,679.4 751.4,686.2" fill="#000"/>
<line x1="433.9" y1="1442.7" x2="1549.45" y2="639.65" stroke="#000" stroke-width="2.8" stroke-dasharray="18 17.71"/><polygon points="1572.1,623.2 1545.4,634.2 1553.5,645.1" fill="#000"/>
<rect x="671" y="70" width="818" height="508" fill="#fff" stroke="none"/>
<polyline points="671.7,530 675.8,522.7 682,537.5 688.2,529.3 694.2,521 700.4,535.5 706.6,531.3 712.6,541 718.6,533.4 724.8,521 731,519.6 737.2,531.3 743.4,528.6 749.6,518 755.4,531.3 761.7,527.9 767.8,524 774.1,529 779.9,529 786.1,532.7 792.3,523.8 798.5,527.2 804.7,516.2 810.9,512.4 817.1,519.3 822.9,519.9 829.3,533.4 835.3,531.3 841.3,507.9 847.5,516.9 853.7,516.6 859.9,532.7 865.7,517.1 871.7,532 878.1,518.8 884,503.6 890,527.3 896.1,527.8 902.3,514.5 908.4,526.8 914.6,529 921,537.3 926.8,517.4 933.1,520.7 938.8,522.6 945,513.8 951.2,513.8 957.3,516.7 963.5,527.3 969.5,516.4 975.5,514.5 982,524 988.1,496.8 994.2,426.7 1000.4,275.5 1006.2,426.7 1012.3,509.1 1018,510.7 1024.2,506.4 1030.4,498.4 1036.6,512.1 1042.7,519.3 1048.9,518.3 1055.1,508.8 1060.8,497.9 1068.4,511.2 1074.1,496.5 1080.7,490.5 1086.6,515.7 1092.7,504 1098.6,508.8 1104.8,497.1 1111,464.7 1117,359.5 1123.4,410.3 1129.3,486.8 1135.1,504.7 1141.3,509.3 1147.5,513.7 1153.7,494.4 1159.7,496.4 1165.7,493.7 1172.1,516.4 1177.9,511.6 1184.1,526.1 1190.3,519.2 1196.5,530.2 1202.7,521.9 1208.5,514.4 1214.4,495.8 1220.6,508.8 1226.8,517.8 1232.7,519.2 1238.8,511.6 1245.1,519.9 1251.2,517.8 1257.1,519.9 1263,526.8 1269.1,519.9 1275.5,516.7 1281.5,513 1287.4,508.2 1293.6,519.2 1299.5,519.2 1306,523.2 1312,519.7 1318,517.2 1324.1,514.7 1330.1,522.7 1336.1,516.7 1342.1,522.7 1348.6,527.7 1354.5,509.7 1360.7,525.7 1366.7,534.2 1372.7,526.7 1378.7,516.2 1384.7,499.6 1390.7,530.7 1396.8,527.2 1402.8,526.2 1408.8,524.2 1414.8,511.4 1420.8,514.4 1427.1,516.2 1433.1,513.7 1439.2,527.2 1445.2,528.5 1451.4,512 1457.4,525.7 1463.4,532.7 1469.9,528.7 1475.9,522.2 1481.5,514.7 1488,511.2" fill="none" stroke="#0000a8" stroke-width="2" stroke-linejoin="miter"/>
<rect x="671" y="70" width="818" height="508" fill="none" stroke="#000" stroke-width="2.2"/>
<g stroke="#000" stroke-width="2.2">
<line x1="665" y1="476.2" x2="671" y2="476.2"/>
<line x1="665" y1="359.96" x2="671" y2="359.96"/>
<line x1="665" y1="243.73" x2="671" y2="243.73"/>
<line x1="665" y1="127.5" x2="671" y2="127.5"/>
<line x1="671" y1="578" x2="671" y2="584"/>
<line x1="852.75" y1="578" x2="852.75" y2="584"/>
<line x1="1034.5" y1="578" x2="1034.5" y2="584"/>
<line x1="1216.25" y1="578" x2="1216.25" y2="584"/>
<line x1="1398" y1="578" x2="1398" y2="584"/>
</g>
<g font-family="Liberation Serif, Times New Roman, serif" fill="#000">
<text x="618.24" y="488.2" font-size="43">40</text>
<text x="618.24" y="371.96" font-size="43">80</text>
<text x="596.74" y="255.73" font-size="43">120</text>
<text x="596.74" y="139.5" font-size="43">160</text>
<text x="638.62" y="621.6" font-size="43">210</text>
<text x="820.74" y="621.6" font-size="43">212</text>
<text x="1001.64" y="621.6" font-size="43">214</text>
<text x="1183.7" y="621.6" font-size="43">216</text>
<text x="1365.62" y="621.6" font-size="43">218</text>
<text x="900.84" y="145.6" font-size="43.6">P I 213.62</text>
<text x="1048.64" y="221.6" font-size="43.6">P I 214.91</text>
</g>
<line x1="999.8" y1="165.2" x2="999.8" y2="260.8" stroke="#000" stroke-width="1.6"/><polygon points="996.8,259.8 1002.8,259.8 999.8,270.8" fill="#000"/>
<line x1="1116.8" y1="246.5" x2="1116.8" y2="344.4" stroke="#000" stroke-width="1.6"/><polygon points="1113.8,343.4 1119.8,343.4 1116.8,354.4" fill="#000"/>
<rect x="1639.3" y="54.2" width="814.7" height="505.8" fill="#fff" stroke="none"/>
<polyline points="1640.2,502.1 1647.1,495.2 1653.4,498.3 1659.6,498.7 1666.5,501.2 1672.8,478.9 1679,493.3 1685.3,500.5 1691.6,485.4 1697.8,491.2 1704.7,473.6 1711,475.8 1717.3,484.5 1723.5,487.7 1729.8,478.6 1736.7,482 1743,476.6 1749.2,500.2 1755.5,494.2 1762.4,464.1 1768.6,482 1774.9,479.5 1781.2,476.6 1787.4,476.6 1794.3,499.5 1800.8,442.5 1807.7,435 1813.6,484.1 1820.1,481.9 1826.5,499.9 1832.9,482.6 1839.3,484.1 1845.9,474.4 1852.4,480.4 1858.7,487.1 1865.2,477.4 1871.2,475.1 1877.7,490.2 1884,479.6 1890.5,468.3 1896.8,490.9 1903.1,480.4 1909.5,495.9 1916,496.2 1922.6,498.9 1928.8,466.8 1935.1,483.4 1941.6,505.9 1947.9,480.4 1954.4,496.6 1960.7,490.9 1967.4,487.4 1973.5,487.6 1979.9,471.8 1986.2,435 1992.8,465.2 1999,429.5 2005.3,218.6 2011.8,471 2018.4,479 2024.7,479.5 2030.9,479.7 2037.1,483.5 2043.7,492 2049.9,479.7 2056.5,488 2062.7,481.6 2068.9,493.9 2075.5,490.6 2081.7,488.7 2088.1,486.3 2094.5,498.2 2100.7,490.6 2107.1,499.1 2113.5,487.6 2119.7,489.7 2126.3,498 2132.8,482.5 2139.1,492 2145.5,499 2151.7,493 2158.1,498 2164.5,496.8 2170.7,471.8 2177.4,476.6 2183.7,404.5 2189.9,469.3 2196.3,475.9 2202.7,457.9 2208.9,473.5 2215.5,494.4 2221.7,490.6 2227.9,491.1 2234.1,489.6 2240.8,485.2 2247.2,490.3 2253.7,501.3 2260,503.4 2266.1,493.7 2272.7,483.1 2278.9,504.1 2285.1,492.4 2291.3,493.7 2297.8,482.4 2304.2,499.9 2310.6,495.1 2316.8,492.4 2323.5,495.8 2329.9,486.1 2336.1,486.8 2342.7,488.9 2348.5,511.6 2354.7,499 2360.9,492.6 2367.6,484.8 2374,489.6 2380.2,492.6 2386.9,482.4 2392.9,503.7 2399.5,487.1 2405.7,471 2411.9,485.5 2418.1,481.3 2424.3,484.4 2430.6,488.9 2437,488.9 2443.6,477.2 2449.8,489.6 2453.5,489.6" fill="none" stroke="#0000a8" stroke-width="2" stroke-linejoin="miter"/>
<rect x="1639.3" y="54.2" width="814.7" height="505.8" fill="none" stroke="#000" stroke-width="2.2"/>
<g stroke="#000" stroke-width="2.2">
<line x1="1633.3" y1="475.8" x2="1639.3" y2="475.8"/>
<line x1="1633.3" y1="363.04" x2="1639.3" y2="363.04"/>
<line x1="1633.3" y1="250.27" x2="1639.3" y2="250.27"/>
<line x1="1633.3" y1="137.5" x2="1639.3" y2="137.5"/>
<line x1="1639.3" y1="560" x2="1639.3" y2="566"/>
<line x1="1842.98" y1="560" x2="1842.98" y2="566"/>
<line x1="2046.66" y1="560" x2="2046.66" y2="566"/>
<line x1="2250.34" y1="560" x2="2250.34" y2="566"/>
<line x1="2454.02" y1="560" x2="2454.02" y2="566"/>
</g>
<g font-family="Liberation Serif, Times New Roman, serif" fill="#000">
<text x="1586.24" y="487.8" font-size="43">40</text>
<text x="1586.24" y="375.04" font-size="43">80</text>
<text x="1564.74" y="262.27" font-size="43">120</text>
<text x="1564.74" y="149.5" font-size="43">160</text>
<text x="1606.92" y="604.2" font-size="43">250</text>
<text x="1810.97" y="604.2" font-size="43">252</text>
<text x="2013.8" y="604.2" font-size="43">254</text>
<text x="2217.79" y="604.2" font-size="43">256</text>
<text x="2421.64" y="604.2" font-size="43">258</text>
<text x="1921.44" y="120.7" font-size="43.6">P I 253.56</text>
<text x="2103.24" y="291.1" font-size="43.6">P I 255.33</text>
</g>
<line x1="2005.4" y1="134.8" x2="2005.4" y2="199.2" stroke="#000" stroke-width="1.6"/><polygon points="2002.4,198.2 2008.4,198.2 2005.4,209.2" fill="#000"/>
<line x1="2183.7" y1="316.2" x2="2183.7" y2="387.8" stroke="#000" stroke-width="1.6"/><polygon points="2180.7,386.8 2186.7,386.8 2183.7,397.8" fill="#000"/>
</svg>
</body></html>
